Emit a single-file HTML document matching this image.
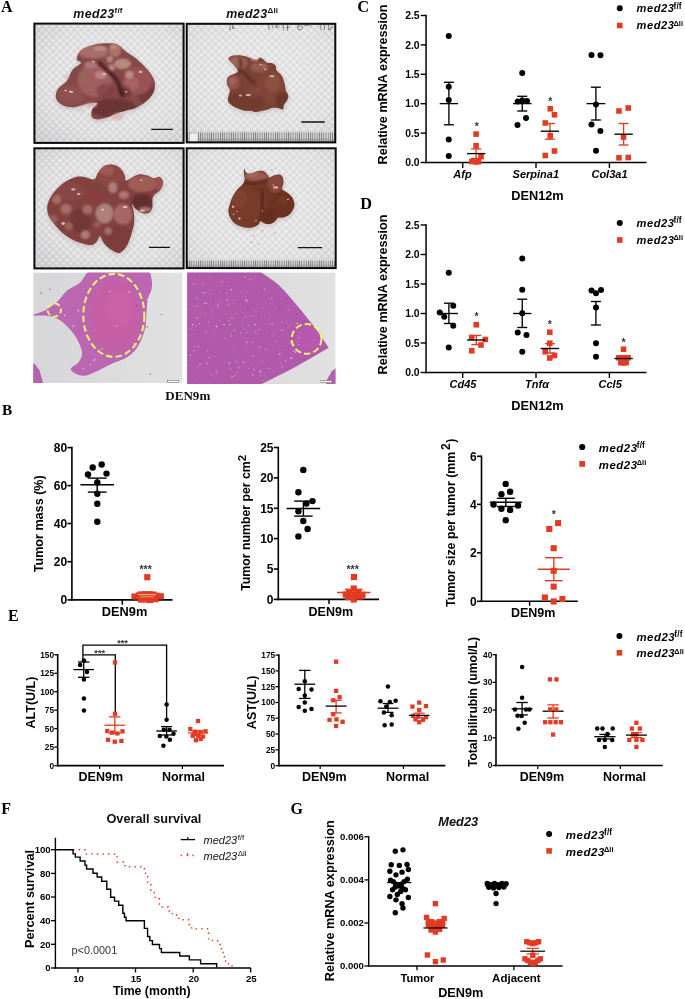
<!DOCTYPE html>
<html lang="en"><head><meta charset="utf-8"><title>Figure</title>
<style>html,body{margin:0;padding:0;background:#fff}svg{display:block}</style></head><body>
<svg width="685" height="999" viewBox="0 0 685 999">
<rect width="685" height="999" fill="#fff"/>
<defs>
<filter id="b1" x="-20%" y="-20%" width="140%" height="140%"><feGaussianBlur stdDeviation="1.1"/></filter>
<filter id="b2" x="-30%" y="-30%" width="160%" height="160%"><feGaussianBlur stdDeviation="2.5"/></filter>
<filter id="b3" x="-30%" y="-30%" width="160%" height="160%"><feGaussianBlur stdDeviation="5"/></filter>
<filter id="b05" x="-20%" y="-20%" width="140%" height="140%"><feGaussianBlur stdDeviation="0.6"/></filter>
<radialGradient id="bg1" cx="0.55" cy="0.45" r="0.75"><stop offset="0" stop-color="#e8e8e9"/><stop offset="0.65" stop-color="#dfdfe0"/><stop offset="1" stop-color="#cbcbce"/></radialGradient>
<radialGradient id="bg2" cx="0.5" cy="0.45" r="0.8"><stop offset="0" stop-color="#e9e9ea"/><stop offset="0.65" stop-color="#e0e0e1"/><stop offset="1" stop-color="#cdcdd0"/></radialGradient>
<pattern id="tex" width="5" height="5" patternUnits="userSpaceOnUse" patternTransform="rotate(45)"><rect width="5" height="5" fill="none"/><circle cx="1.25" cy="1.25" r="1.35" fill="#fff" opacity="0.42"/><circle cx="3.75" cy="3.75" r="1.3" fill="#acacb0" opacity="0.22"/></pattern>
<pattern id="ruler" width="2.2" height="12" patternUnits="userSpaceOnUse"><rect width="2.2" height="12" fill="#d6d6d6"/><rect width="0.8" height="12" fill="#767676"/></pattern>
<linearGradient id="hbg" x1="0" y1="0" x2="1" y2="0"><stop offset="0" stop-color="#d6d6d8"/><stop offset="1" stop-color="#e1e1e2"/></linearGradient>
</defs>
<text x="0.9" y="11.6" font-family='"Liberation Serif", serif' font-size="16" font-weight="bold" font-style="normal" text-anchor="start" fill="#000">A</text>
<text x="73.3" y="17.8" font-family='"Liberation Sans", sans-serif' font-size="12.4" font-weight="bold" font-style="italic" fill="#111" letter-spacing="0.4">med23<tspan font-size="8" font-style="normal" dy="-4.4" letter-spacing="0.2">f/f</tspan></text>
<text x="226.2" y="17.8" font-family='"Liberation Sans", sans-serif' font-size="12.4" font-weight="bold" font-style="italic" fill="#111" letter-spacing="0.4">med23<tspan font-size="8" font-style="normal" dy="-4.4" letter-spacing="0.2">Δli</tspan></text>
<clipPath id="cp1"><rect x="34.4" y="23.6" width="149.2" height="119.3"/></clipPath>
<g clip-path="url(#cp1)">
<rect x="34.4" y="23.6" width="149.2" height="119.3" fill="url(#bg1)"/>
<rect x="34.4" y="23.6" width="149.2" height="119.3" fill="url(#tex)"/>
<path d="M76.7 59.13C76.7 57.05 78.34 52.74 81.08 50.37C83.81 48 88.56 46.06 93.12 44.9C97.68 43.73 104.25 43.36 108.45 43.36C112.64 43.36 115.38 43.55 118.3 44.9C121.22 46.25 122.86 49.09 125.96 51.47C129.07 53.84 133.26 56.03 136.91 59.13C140.56 62.23 144.94 66.43 147.86 70.08C150.78 73.73 153.41 77.56 154.43 81.02C155.45 84.49 155.09 87.78 153.99 90.88C152.9 93.98 150.71 96.9 147.86 99.64C145.01 102.37 140.56 105.48 136.91 107.3C133.26 109.13 129.25 109.6 125.96 110.58C122.68 111.57 120.49 112.04 117.21 113.21C113.92 114.38 109.72 116.57 106.26 117.59C102.79 118.61 98.89 119.6 96.4 119.34C93.92 119.09 91.99 117.81 91.37 116.06C90.75 114.31 91.66 110.99 92.68 108.83C93.7 106.68 98.52 103.94 97.5 103.14C96.48 102.34 90.57 103.32 86.55 104.02C82.54 104.71 77.43 107.12 73.41 107.3C69.4 107.48 65.38 106.68 62.47 105.11C59.55 103.54 56.63 100.62 55.9 97.89C55.17 95.15 56.26 91.5 58.09 88.69C59.91 85.88 64.47 84.13 66.84 81.02C69.22 77.92 69.95 73.11 72.32 70.08C74.69 67.05 80.35 64.68 81.08 62.85C81.81 61.03 76.7 61.21 76.7 59.13Z" fill="#b3a6a6" filter="url(#b2)" opacity="0.75" transform="translate(0.4 1.4)"/>
<clipPath id="lv1"><path d="M76.7 59.13C76.7 57.05 78.34 52.74 81.08 50.37C83.81 48 88.56 46.06 93.12 44.9C97.68 43.73 104.25 43.36 108.45 43.36C112.64 43.36 115.38 43.55 118.3 44.9C121.22 46.25 122.86 49.09 125.96 51.47C129.07 53.84 133.26 56.03 136.91 59.13C140.56 62.23 144.94 66.43 147.86 70.08C150.78 73.73 153.41 77.56 154.43 81.02C155.45 84.49 155.09 87.78 153.99 90.88C152.9 93.98 150.71 96.9 147.86 99.64C145.01 102.37 140.56 105.48 136.91 107.3C133.26 109.13 129.25 109.6 125.96 110.58C122.68 111.57 120.49 112.04 117.21 113.21C113.92 114.38 109.72 116.57 106.26 117.59C102.79 118.61 98.89 119.6 96.4 119.34C93.92 119.09 91.99 117.81 91.37 116.06C90.75 114.31 91.66 110.99 92.68 108.83C93.7 106.68 98.52 103.94 97.5 103.14C96.48 102.34 90.57 103.32 86.55 104.02C82.54 104.71 77.43 107.12 73.41 107.3C69.4 107.48 65.38 106.68 62.47 105.11C59.55 103.54 56.63 100.62 55.9 97.89C55.17 95.15 56.26 91.5 58.09 88.69C59.91 85.88 64.47 84.13 66.84 81.02C69.22 77.92 69.95 73.11 72.32 70.08C74.69 67.05 80.35 64.68 81.08 62.85C81.81 61.03 76.7 61.21 76.7 59.13Z"/></clipPath>
<path d="M76.7 59.13C76.7 57.05 78.34 52.74 81.08 50.37C83.81 48 88.56 46.06 93.12 44.9C97.68 43.73 104.25 43.36 108.45 43.36C112.64 43.36 115.38 43.55 118.3 44.9C121.22 46.25 122.86 49.09 125.96 51.47C129.07 53.84 133.26 56.03 136.91 59.13C140.56 62.23 144.94 66.43 147.86 70.08C150.78 73.73 153.41 77.56 154.43 81.02C155.45 84.49 155.09 87.78 153.99 90.88C152.9 93.98 150.71 96.9 147.86 99.64C145.01 102.37 140.56 105.48 136.91 107.3C133.26 109.13 129.25 109.6 125.96 110.58C122.68 111.57 120.49 112.04 117.21 113.21C113.92 114.38 109.72 116.57 106.26 117.59C102.79 118.61 98.89 119.6 96.4 119.34C93.92 119.09 91.99 117.81 91.37 116.06C90.75 114.31 91.66 110.99 92.68 108.83C93.7 106.68 98.52 103.94 97.5 103.14C96.48 102.34 90.57 103.32 86.55 104.02C82.54 104.71 77.43 107.12 73.41 107.3C69.4 107.48 65.38 106.68 62.47 105.11C59.55 103.54 56.63 100.62 55.9 97.89C55.17 95.15 56.26 91.5 58.09 88.69C59.91 85.88 64.47 84.13 66.84 81.02C69.22 77.92 69.95 73.11 72.32 70.08C74.69 67.05 80.35 64.68 81.08 62.85C81.81 61.03 76.7 61.21 76.7 59.13Z" fill="#864a49" filter="url(#b05)"/>
<g clip-path="url(#lv1)">
<ellipse cx="70.33" cy="95.18" rx="13.03" ry="9.5" fill="#8f524f" filter="url(#b1)" opacity="0.95" transform="rotate(0 70.33 95.18)"/>
<ellipse cx="113.25" cy="108.21" rx="22.99" ry="9.5" fill="#6b3636" filter="url(#b1)" opacity="0.95" transform="rotate(0 113.25 108.21)"/>
<ellipse cx="146.97" cy="94.41" rx="8.43" ry="10.73" fill="#703a3a" filter="url(#b1)" opacity="0.9" transform="rotate(0 146.97 94.41)"/>
<ellipse cx="94.85" cy="80.16" rx="17.17" ry="16.55" fill="#a36160" filter="url(#b1)" opacity="0.95" transform="rotate(0 94.85 80.16)"/>
<ellipse cx="137.77" cy="81.08" rx="14.1" ry="13.8" fill="#9b5554" filter="url(#b1)" opacity="0.95" transform="rotate(0 137.77 81.08)"/>
<ellipse cx="131.64" cy="83.68" rx="7.66" ry="6.9" fill="#a96766" filter="url(#b1)" opacity="0.8" transform="rotate(0 131.64 83.68)"/>
<ellipse cx="93.32" cy="51.96" rx="15.33" ry="6.74" fill="#a9706b" filter="url(#b1)" opacity="0.95" transform="rotate(0 93.32 51.96)"/>
<ellipse cx="100.22" cy="48.43" rx="6.9" ry="2.76" fill="#c09a90" filter="url(#b1)" opacity="0.7" transform="rotate(0 100.22 48.43)"/>
<ellipse cx="115.09" cy="50.12" rx="6.13" ry="7.05" fill="#b37570" filter="url(#b1)" opacity="0.95" transform="rotate(0 115.09 50.12)"/>
<ellipse cx="112.94" cy="46.9" rx="3.07" ry="2.15" fill="#c49c92" filter="url(#b1)" opacity="0.6" transform="rotate(0 112.94 46.9)"/>
<ellipse cx="100.98" cy="74.95" rx="6.44" ry="3.99" fill="#bf8986" filter="url(#b1)" opacity="0.85" transform="rotate(0 100.98 74.95)"/>
<ellipse cx="90.56" cy="64.83" rx="6.44" ry="3.68" fill="#b88080" filter="url(#b1)" opacity="0.8" transform="rotate(0 90.56 64.83)"/>
<ellipse cx="83.36" cy="77.55" rx="3.07" ry="4.6" fill="#8b7252" filter="url(#b1)" opacity="0.7" transform="rotate(0 83.36 77.55)"/>
<ellipse cx="122.44" cy="63.76" rx="8.58" ry="5.21" fill="#bd9186" filter="url(#b1)" opacity="0.9" transform="rotate(0 122.44 63.76)"/>
<ellipse cx="129.34" cy="74.64" rx="4.29" ry="3.83" fill="#bd9388" filter="url(#b1)" opacity="0.9" transform="rotate(0 129.34 74.64)"/>
<ellipse cx="109.87" cy="59.16" rx="3.37" ry="3.37" fill="#bc8d84" filter="url(#b1)" opacity="0.9" transform="rotate(0 109.87 59.16)"/>
<ellipse cx="111.71" cy="67.59" rx="3.37" ry="3.22" fill="#bc8d84" filter="url(#b1)" opacity="0.9" transform="rotate(0 111.71 67.59)"/>
<ellipse cx="105.58" cy="90.58" rx="9.2" ry="6.9" fill="#7d4040" filter="url(#b1)" opacity="0.7" transform="rotate(0 105.58 90.58)"/>
<ellipse cx="124.74" cy="92.12" rx="6.13" ry="6.13" fill="#6a3131" filter="url(#b1)" opacity="0.6" transform="rotate(0 124.74 92.12)"/>
<path d="M99.45 62.99C100.35 63.89 102.77 66.44 104.82 68.36C106.86 70.27 109.67 72.44 111.71 74.49C113.76 76.53 115.67 78.19 117.08 80.62C118.48 83.05 119.25 86.62 120.14 89.05C121.04 91.48 122.06 94.16 122.44 95.18" fill="none" stroke="#3f191d" stroke-width="3.6" stroke-linecap="round" filter="url(#b1)" opacity="0.85"/>
<ellipse cx="71.09" cy="91.81" rx="2.45" ry="1.07" fill="#f2dedc" filter="url(#b05)" opacity="0.75" transform="rotate(0 71.09 91.81)"/>
<ellipse cx="65.73" cy="90.58" rx="1.23" ry="0.92" fill="#f2dedc" filter="url(#b05)" opacity="0.75" transform="rotate(0 65.73 90.58)"/>
<ellipse cx="140.53" cy="71.88" rx="1.84" ry="1.07" fill="#f2dedc" filter="url(#b05)" opacity="0.75" transform="rotate(0 140.53 71.88)"/>
<ellipse cx="104.05" cy="74.03" rx="1.84" ry="0.92" fill="#f2dedc" filter="url(#b05)" opacity="0.75" transform="rotate(0 104.05 74.03)"/>
<ellipse cx="126.28" cy="91.81" rx="1.23" ry="0.77" fill="#f2dedc" filter="url(#b05)" opacity="0.75" transform="rotate(0 126.28 91.81)"/>
<ellipse cx="93.32" cy="61.46" rx="1.53" ry="0.77" fill="#f2dedc" filter="url(#b05)" opacity="0.75" transform="rotate(0 93.32 61.46)"/>
</g>
<ellipse cx="91.02" cy="105.14" rx="6.13" ry="2.76" fill="#dba5a3" filter="url(#b1)" opacity="0.55" transform="rotate(0 91.02 105.14)"/>
<ellipse cx="117.84" cy="116.64" rx="6.13" ry="3.83" fill="#dba5a3" filter="url(#b1)" opacity="0.55" transform="rotate(0 117.84 116.64)"/>
<ellipse cx="66.5" cy="76.79" rx="2.3" ry="2.3" fill="#dba5a3" filter="url(#b1)" opacity="0.55" transform="rotate(0 66.5 76.79)"/>
<ellipse cx="82.59" cy="111.28" rx="2.15" ry="1.53" fill="#dba5a3" filter="url(#b1)" opacity="0.55" transform="rotate(0 82.59 111.28)"/>
<line x1="151.2" y1="129.3" x2="172.9" y2="129.3" stroke="#111" stroke-width="1.3"/>
</g>
<rect x="34.4" y="23.6" width="149.2" height="119.3" fill="none" stroke="#0a0a0a" stroke-width="2"/>
<clipPath id="cp2"><rect x="186.7" y="23.8" width="148.6" height="118.6"/></clipPath>
<g clip-path="url(#cp2)">
<rect x="186.7" y="23.8" width="148.6" height="118.6" fill="url(#bg2)"/>
<rect x="186.7" y="23.8" width="148.6" height="118.6" fill="url(#tex)"/>
<path d="M228.54 58.14C228.98 57.31 230.62 56.26 232.48 55.78C234.35 55.29 237.41 55.12 239.71 55.25C242.01 55.38 244.2 55.97 246.28 56.56C248.36 57.16 250.33 58.27 252.19 58.8C254.06 59.32 256.14 59.94 257.45 59.72C258.76 59.5 259.09 57.53 260.08 57.48C261.06 57.44 262.16 58.58 263.36 59.45C264.57 60.33 265.77 62.13 267.31 62.74C268.84 63.35 271.14 62.59 272.56 63.13C273.99 63.68 275.19 64.78 275.85 66.02C276.5 67.27 275.52 68.98 276.5 70.62C277.49 72.27 280.45 73.8 281.76 75.88C283.07 77.96 283.73 80.7 284.39 83.11C285.05 85.52 285.05 88.25 285.7 90.34C286.36 92.42 288.11 93.95 288.33 95.59C288.55 97.23 287.78 98.66 287.02 100.19C286.25 101.72 284.39 103.26 283.73 104.79C283.07 106.32 284.06 108.84 283.07 109.39C282.09 109.94 279.57 108.34 277.82 108.07C276.07 107.81 274.2 107.59 272.56 107.81C270.92 108.03 269.72 108.91 267.96 109.39C266.21 109.87 264.13 110.27 262.05 110.7C259.97 111.14 257.34 112.02 255.48 112.02C253.62 112.02 252.63 110.92 250.88 110.7C249.13 110.48 247.27 111.14 244.97 110.7C242.67 110.27 239.38 109.06 237.08 108.07C234.78 107.09 232.7 106.1 231.17 104.79C229.64 103.48 228.21 102.05 227.88 100.19C227.56 98.33 228.87 95.37 229.2 93.62C229.53 91.87 230.18 91.21 229.86 89.68C229.53 88.14 227.67 86.28 227.23 84.42C226.79 82.56 226.68 80.04 227.23 78.51C227.77 76.98 229.09 76.1 230.51 75.22C231.94 74.35 234.56 74.02 235.77 73.25C236.97 72.49 238.07 72.05 237.74 70.62C237.41 69.2 235.11 66.35 233.8 64.71C232.48 63.07 230.73 61.86 229.86 60.77C228.98 59.67 228.1 58.97 228.54 58.14Z" fill="#b5aaa8" filter="url(#b2)" opacity="0.75" transform="translate(0.4 1.4)"/>
<clipPath id="lv2"><path d="M228.54 58.14C228.98 57.31 230.62 56.26 232.48 55.78C234.35 55.29 237.41 55.12 239.71 55.25C242.01 55.38 244.2 55.97 246.28 56.56C248.36 57.16 250.33 58.27 252.19 58.8C254.06 59.32 256.14 59.94 257.45 59.72C258.76 59.5 259.09 57.53 260.08 57.48C261.06 57.44 262.16 58.58 263.36 59.45C264.57 60.33 265.77 62.13 267.31 62.74C268.84 63.35 271.14 62.59 272.56 63.13C273.99 63.68 275.19 64.78 275.85 66.02C276.5 67.27 275.52 68.98 276.5 70.62C277.49 72.27 280.45 73.8 281.76 75.88C283.07 77.96 283.73 80.7 284.39 83.11C285.05 85.52 285.05 88.25 285.7 90.34C286.36 92.42 288.11 93.95 288.33 95.59C288.55 97.23 287.78 98.66 287.02 100.19C286.25 101.72 284.39 103.26 283.73 104.79C283.07 106.32 284.06 108.84 283.07 109.39C282.09 109.94 279.57 108.34 277.82 108.07C276.07 107.81 274.2 107.59 272.56 107.81C270.92 108.03 269.72 108.91 267.96 109.39C266.21 109.87 264.13 110.27 262.05 110.7C259.97 111.14 257.34 112.02 255.48 112.02C253.62 112.02 252.63 110.92 250.88 110.7C249.13 110.48 247.27 111.14 244.97 110.7C242.67 110.27 239.38 109.06 237.08 108.07C234.78 107.09 232.7 106.1 231.17 104.79C229.64 103.48 228.21 102.05 227.88 100.19C227.56 98.33 228.87 95.37 229.2 93.62C229.53 91.87 230.18 91.21 229.86 89.68C229.53 88.14 227.67 86.28 227.23 84.42C226.79 82.56 226.68 80.04 227.23 78.51C227.77 76.98 229.09 76.1 230.51 75.22C231.94 74.35 234.56 74.02 235.77 73.25C236.97 72.49 238.07 72.05 237.74 70.62C237.41 69.2 235.11 66.35 233.8 64.71C232.48 63.07 230.73 61.86 229.86 60.77C228.98 59.67 228.1 58.97 228.54 58.14Z"/></clipPath>
<path d="M228.54 58.14C228.98 57.31 230.62 56.26 232.48 55.78C234.35 55.29 237.41 55.12 239.71 55.25C242.01 55.38 244.2 55.97 246.28 56.56C248.36 57.16 250.33 58.27 252.19 58.8C254.06 59.32 256.14 59.94 257.45 59.72C258.76 59.5 259.09 57.53 260.08 57.48C261.06 57.44 262.16 58.58 263.36 59.45C264.57 60.33 265.77 62.13 267.31 62.74C268.84 63.35 271.14 62.59 272.56 63.13C273.99 63.68 275.19 64.78 275.85 66.02C276.5 67.27 275.52 68.98 276.5 70.62C277.49 72.27 280.45 73.8 281.76 75.88C283.07 77.96 283.73 80.7 284.39 83.11C285.05 85.52 285.05 88.25 285.7 90.34C286.36 92.42 288.11 93.95 288.33 95.59C288.55 97.23 287.78 98.66 287.02 100.19C286.25 101.72 284.39 103.26 283.73 104.79C283.07 106.32 284.06 108.84 283.07 109.39C282.09 109.94 279.57 108.34 277.82 108.07C276.07 107.81 274.2 107.59 272.56 107.81C270.92 108.03 269.72 108.91 267.96 109.39C266.21 109.87 264.13 110.27 262.05 110.7C259.97 111.14 257.34 112.02 255.48 112.02C253.62 112.02 252.63 110.92 250.88 110.7C249.13 110.48 247.27 111.14 244.97 110.7C242.67 110.27 239.38 109.06 237.08 108.07C234.78 107.09 232.7 106.1 231.17 104.79C229.64 103.48 228.21 102.05 227.88 100.19C227.56 98.33 228.87 95.37 229.2 93.62C229.53 91.87 230.18 91.21 229.86 89.68C229.53 88.14 227.67 86.28 227.23 84.42C226.79 82.56 226.68 80.04 227.23 78.51C227.77 76.98 229.09 76.1 230.51 75.22C231.94 74.35 234.56 74.02 235.77 73.25C236.97 72.49 238.07 72.05 237.74 70.62C237.41 69.2 235.11 66.35 233.8 64.71C232.48 63.07 230.73 61.86 229.86 60.77C228.98 59.67 228.1 58.97 228.54 58.14Z" fill="#7a4235" filter="url(#b05)"/>
<g clip-path="url(#lv2)">
<ellipse cx="271.25" cy="87.05" rx="14.45" ry="17.08" fill="#824738" filter="url(#b1)" opacity="0.95" transform="rotate(0 271.25 87.05)"/>
<ellipse cx="272.56" cy="83.11" rx="7.23" ry="9.2" fill="#915546" filter="url(#b1)" opacity="0.7" transform="rotate(0 272.56 83.11)"/>
<ellipse cx="246.28" cy="101.5" rx="18.4" ry="9.2" fill="#713b2f" filter="url(#b1)" opacity="0.9" transform="rotate(0 246.28 101.5)"/>
<ellipse cx="281.76" cy="100.19" rx="5.91" ry="7.88" fill="#68352a" filter="url(#b1)" opacity="0.8" transform="rotate(0 281.76 100.19)"/>
<ellipse cx="238.4" cy="62.74" rx="9.86" ry="6.57" fill="#975e53" filter="url(#b1)" opacity="0.95" transform="rotate(0 238.4 62.74)"/>
<ellipse cx="233.8" cy="61.43" rx="4.6" ry="4.6" fill="#a16b60" filter="url(#b1)" opacity="0.7" transform="rotate(0 233.8 61.43)"/>
<ellipse cx="233.14" cy="82.45" rx="6.57" ry="7.23" fill="#93574e" filter="url(#b1)" opacity="0.95" transform="rotate(0 233.14 82.45)"/>
<ellipse cx="232.48" cy="81.14" rx="3.29" ry="3.68" fill="#a96f68" filter="url(#b1)" opacity="0.7" transform="rotate(0 232.48 81.14)"/>
<ellipse cx="259.42" cy="67.34" rx="9.2" ry="5.26" fill="#965e4f" filter="url(#b1)" opacity="0.85" transform="rotate(0 259.42 67.34)"/>
<ellipse cx="254.43" cy="59.19" rx="3.68" ry="1.58" fill="#cb9792" filter="url(#b1)" opacity="0.9" transform="rotate(0 254.43 59.19)"/>
<ellipse cx="264.02" cy="66.02" rx="1.84" ry="1.31" fill="#c58f89" filter="url(#b1)" opacity="0.7" transform="rotate(0 264.02 66.02)"/>
<ellipse cx="253.51" cy="92.31" rx="6.57" ry="6.57" fill="#8b4f41" filter="url(#b1)" opacity="0.5" transform="rotate(0 253.51 92.31)"/>
<path d="M239.71 59.19C239.93 60.11 241.02 62.81 241.02 64.71C241.02 66.62 239.16 69.2 239.71 70.62C240.26 72.05 242.56 71.72 244.31 73.25C246.06 74.79 248.54 78.14 250.22 79.82C251.91 81.51 253.73 82.78 254.43 83.37" fill="none" stroke="#4e221c" stroke-width="2" stroke-linecap="round" filter="url(#b1)" opacity="0.75"/>
<ellipse cx="271.91" cy="76.27" rx="2.63" ry="1.05" fill="#f2dedc" filter="url(#b05)" opacity="0.75" transform="rotate(0 271.91 76.27)"/>
<ellipse cx="248.25" cy="94.93" rx="2.89" ry="1.05" fill="#f2dedc" filter="url(#b05)" opacity="0.75" transform="rotate(0 248.25 94.93)"/>
<ellipse cx="240.37" cy="95.59" rx="1.58" ry="1.05" fill="#f2dedc" filter="url(#b05)" opacity="0.75" transform="rotate(0 240.37 95.59)"/>
<ellipse cx="265.34" cy="69.31" rx="1.31" ry="0.79" fill="#f2dedc" filter="url(#b05)" opacity="0.75" transform="rotate(0 265.34 69.31)"/>
<ellipse cx="260.74" cy="64.71" rx="1.18" ry="0.66" fill="#f2dedc" filter="url(#b05)" opacity="0.75" transform="rotate(0 260.74 64.71)"/>
</g>
<path d="M230 25.2 q0.8 2.5 -0.2 4.8 M232.5 25.5 l0.3 3.2 q1.2 1 1.8 -1.5" fill="none" stroke="#3a4052" stroke-width="0.75" stroke-linecap="round" opacity="0.8"/>
<path d="M268.5 25.3 q1.5 3 0.5 4.5 M272 25 l0.8 2.8 M276 25.2 q-1.2 2.4 0.8 3.2 q1.5 -0.5 1 -3" fill="none" stroke="#3a4052" stroke-width="0.75" stroke-linecap="round" opacity="0.8"/>
<path d="M283 25.5 l0.4 4.6 M287.5 25.2 l0.2 5.2 M286 27.5 l3 -0.4" fill="none" stroke="#3a4052" stroke-width="0.75" stroke-linecap="round" opacity="0.8"/>
<path d="M298 26 q-1.5 2.2 0.5 3.8 q3 0.8 4.5 -2.2 q-1 -2.4 -5 -1.6 M305 25.5 q2 1 4 -0.4" fill="none" stroke="#3a4052" stroke-width="0.75" stroke-linecap="round" opacity="0.8"/>
<path d="M320.5 25.3 l0.6 4 M324 25.3 q1.2 2.2 0.4 4.6 M328.5 25.2 l0.4 4.5 q1.5 1.2 3 -2.8" fill="none" stroke="#3a4052" stroke-width="0.75" stroke-linecap="round" opacity="0.8"/>
<circle cx="279.5" cy="27" r="1" fill="#e8a090" opacity="0.7"/><circle cx="311" cy="26.5" r="1.1" fill="#e8a090" opacity="0.7"/>
<rect x="186.7" y="131.2" width="149" height="11.3" fill="url(#ruler)"/>
<rect x="186.7" y="130.9" width="149" height="1.6" fill="#dadada" opacity="0.9" filter="url(#b05)"/>
<rect x="186.7" y="138.5" width="149" height="4" fill="#8e8e8e" opacity="0.5" filter="url(#b05)"/>
<rect x="189.5" y="133.5" width="8" height="8" fill="#f6f6f6" opacity="0.9" filter="url(#b05)"/>
<line x1="301.4" y1="122" x2="324.8" y2="122" stroke="#111" stroke-width="1.3"/>
</g>
<rect x="186.7" y="23.8" width="148.6" height="118.6" fill="none" stroke="#0a0a0a" stroke-width="2"/>
<clipPath id="cp3"><rect x="34.4" y="148.3" width="149.2" height="120.1"/></clipPath>
<g clip-path="url(#cp3)">
<rect x="34.4" y="148.3" width="149.2" height="120.1" fill="url(#bg1)"/>
<rect x="34.4" y="148.3" width="149.2" height="120.1" fill="url(#tex)"/>
<path d="M47.15 207.82C47.3 205.21 47.92 202.46 49.36 199.54C50.8 196.63 53.19 193.26 55.79 190.35C58.4 187.44 61.62 184.31 64.99 182.07C68.36 179.83 72.5 177.69 76.03 176.92C79.55 176.15 83.08 177.07 86.14 177.47C89.21 177.87 92.43 180.08 94.42 179.31C96.41 178.55 96.56 175.02 98.1 172.87C99.63 170.73 101.32 167.82 103.61 166.44C105.91 165.06 109.13 164.29 111.89 164.6C114.65 164.9 118.02 166.44 120.17 168.28C122.31 170.12 123.85 173.58 124.77 175.63C125.69 177.69 124.46 180.29 125.69 180.6C126.91 180.91 129.82 178.52 132.12 177.47C134.42 176.43 136.87 174.65 139.48 174.35C142.09 174.04 145.3 174.96 147.76 175.63C150.21 176.31 152.2 178.18 154.19 178.39C156.19 178.61 158.24 176.31 159.71 176.92C161.18 177.53 162.87 179.99 163.02 182.07C163.18 184.16 162.1 187.28 160.63 189.43C159.16 191.57 155.57 193.26 154.19 194.95C152.81 196.63 152.66 197.55 152.35 199.54C152.05 201.54 152.81 204.76 152.35 206.9C151.9 209.05 151.13 211.35 149.6 212.42C148.06 213.49 145.46 213.95 143.16 213.34C140.86 212.73 137.64 210.33 135.8 208.74C133.96 207.15 132.43 203.01 132.12 203.77C131.82 204.54 133.66 209.9 133.96 213.34C134.27 216.77 134.58 220.39 133.96 224.37C133.35 228.36 131.66 233.42 130.28 237.25C128.9 241.08 127.53 244.76 125.69 247.36C123.85 249.97 121.55 252.42 119.25 252.88C116.95 253.34 114.34 251.66 111.89 250.12C109.44 248.59 106.53 245.98 104.53 243.69C102.54 241.39 101.16 236.79 99.94 236.33C98.71 235.87 98.56 239.49 97.18 240.93C95.8 242.37 93.96 244.51 91.66 244.97C89.36 245.43 86.45 244.51 83.38 243.69C80.32 242.86 76.79 241.85 73.27 240.01C69.74 238.17 65.6 235.56 62.23 232.65C58.86 229.74 55.33 225.45 53.04 222.53C50.74 219.62 49.42 217.63 48.44 215.18C47.46 212.73 47 210.43 47.15 207.82Z" fill="#b3a6a6" filter="url(#b2)" opacity="0.75" transform="translate(0.4 1.4)"/>
<clipPath id="lv3"><path d="M47.15 207.82C47.3 205.21 47.92 202.46 49.36 199.54C50.8 196.63 53.19 193.26 55.79 190.35C58.4 187.44 61.62 184.31 64.99 182.07C68.36 179.83 72.5 177.69 76.03 176.92C79.55 176.15 83.08 177.07 86.14 177.47C89.21 177.87 92.43 180.08 94.42 179.31C96.41 178.55 96.56 175.02 98.1 172.87C99.63 170.73 101.32 167.82 103.61 166.44C105.91 165.06 109.13 164.29 111.89 164.6C114.65 164.9 118.02 166.44 120.17 168.28C122.31 170.12 123.85 173.58 124.77 175.63C125.69 177.69 124.46 180.29 125.69 180.6C126.91 180.91 129.82 178.52 132.12 177.47C134.42 176.43 136.87 174.65 139.48 174.35C142.09 174.04 145.3 174.96 147.76 175.63C150.21 176.31 152.2 178.18 154.19 178.39C156.19 178.61 158.24 176.31 159.71 176.92C161.18 177.53 162.87 179.99 163.02 182.07C163.18 184.16 162.1 187.28 160.63 189.43C159.16 191.57 155.57 193.26 154.19 194.95C152.81 196.63 152.66 197.55 152.35 199.54C152.05 201.54 152.81 204.76 152.35 206.9C151.9 209.05 151.13 211.35 149.6 212.42C148.06 213.49 145.46 213.95 143.16 213.34C140.86 212.73 137.64 210.33 135.8 208.74C133.96 207.15 132.43 203.01 132.12 203.77C131.82 204.54 133.66 209.9 133.96 213.34C134.27 216.77 134.58 220.39 133.96 224.37C133.35 228.36 131.66 233.42 130.28 237.25C128.9 241.08 127.53 244.76 125.69 247.36C123.85 249.97 121.55 252.42 119.25 252.88C116.95 253.34 114.34 251.66 111.89 250.12C109.44 248.59 106.53 245.98 104.53 243.69C102.54 241.39 101.16 236.79 99.94 236.33C98.71 235.87 98.56 239.49 97.18 240.93C95.8 242.37 93.96 244.51 91.66 244.97C89.36 245.43 86.45 244.51 83.38 243.69C80.32 242.86 76.79 241.85 73.27 240.01C69.74 238.17 65.6 235.56 62.23 232.65C58.86 229.74 55.33 225.45 53.04 222.53C50.74 219.62 49.42 217.63 48.44 215.18C47.46 212.73 47 210.43 47.15 207.82Z"/></clipPath>
<path d="M47.15 207.82C47.3 205.21 47.92 202.46 49.36 199.54C50.8 196.63 53.19 193.26 55.79 190.35C58.4 187.44 61.62 184.31 64.99 182.07C68.36 179.83 72.5 177.69 76.03 176.92C79.55 176.15 83.08 177.07 86.14 177.47C89.21 177.87 92.43 180.08 94.42 179.31C96.41 178.55 96.56 175.02 98.1 172.87C99.63 170.73 101.32 167.82 103.61 166.44C105.91 165.06 109.13 164.29 111.89 164.6C114.65 164.9 118.02 166.44 120.17 168.28C122.31 170.12 123.85 173.58 124.77 175.63C125.69 177.69 124.46 180.29 125.69 180.6C126.91 180.91 129.82 178.52 132.12 177.47C134.42 176.43 136.87 174.65 139.48 174.35C142.09 174.04 145.3 174.96 147.76 175.63C150.21 176.31 152.2 178.18 154.19 178.39C156.19 178.61 158.24 176.31 159.71 176.92C161.18 177.53 162.87 179.99 163.02 182.07C163.18 184.16 162.1 187.28 160.63 189.43C159.16 191.57 155.57 193.26 154.19 194.95C152.81 196.63 152.66 197.55 152.35 199.54C152.05 201.54 152.81 204.76 152.35 206.9C151.9 209.05 151.13 211.35 149.6 212.42C148.06 213.49 145.46 213.95 143.16 213.34C140.86 212.73 137.64 210.33 135.8 208.74C133.96 207.15 132.43 203.01 132.12 203.77C131.82 204.54 133.66 209.9 133.96 213.34C134.27 216.77 134.58 220.39 133.96 224.37C133.35 228.36 131.66 233.42 130.28 237.25C128.9 241.08 127.53 244.76 125.69 247.36C123.85 249.97 121.55 252.42 119.25 252.88C116.95 253.34 114.34 251.66 111.89 250.12C109.44 248.59 106.53 245.98 104.53 243.69C102.54 241.39 101.16 236.79 99.94 236.33C98.71 235.87 98.56 239.49 97.18 240.93C95.8 242.37 93.96 244.51 91.66 244.97C89.36 245.43 86.45 244.51 83.38 243.69C80.32 242.86 76.79 241.85 73.27 240.01C69.74 238.17 65.6 235.56 62.23 232.65C58.86 229.74 55.33 225.45 53.04 222.53C50.74 219.62 49.42 217.63 48.44 215.18C47.46 212.73 47 210.43 47.15 207.82Z" fill="#82433f" filter="url(#b05)"/>
<g clip-path="url(#lv3)">
<ellipse cx="110.97" cy="175.63" rx="14.35" ry="11.4" fill="#8d4945" filter="url(#b1)" opacity="0.95" transform="rotate(0 110.97 175.63)"/>
<ellipse cx="106.74" cy="170.67" rx="7.36" ry="4.6" fill="#a35f5a" filter="url(#b1)" opacity="0.8" transform="rotate(0 106.74 170.67)"/>
<ellipse cx="142.24" cy="183.91" rx="14.35" ry="8.46" fill="#a25e59" filter="url(#b1)" opacity="0.95" transform="rotate(0 142.24 183.91)"/>
<ellipse cx="158.98" cy="183.91" rx="4.05" ry="7.36" fill="#a15752" filter="url(#b1)" opacity="0.9" transform="rotate(0 158.98 183.91)"/>
<ellipse cx="142.24" cy="202.67" rx="10.67" ry="9.2" fill="#632d2d" filter="url(#b1)" opacity="0.9" transform="rotate(0 142.24 202.67)"/>
<ellipse cx="145" cy="209.29" rx="5.89" ry="2.57" fill="#b88a84" filter="url(#b1)" opacity="0.8" transform="rotate(0 145 209.29)"/>
<ellipse cx="80.62" cy="220.7" rx="10.12" ry="11.96" fill="#6b3431" filter="url(#b1)" opacity="0.7" transform="rotate(0 80.62 220.7)"/>
<ellipse cx="95.34" cy="196.78" rx="11.96" ry="5.52" fill="#8f3e3e" filter="url(#b1)" opacity="0.6" transform="rotate(0 95.34 196.78)"/>
<ellipse cx="117.41" cy="239.46" rx="15.08" ry="13.98" fill="#7b3e3a" filter="url(#b1)" opacity="0.9" transform="rotate(0 117.41 239.46)"/>
<ellipse cx="69.59" cy="191.27" rx="16.55" ry="9.2" fill="#8c4c48" filter="url(#b1)" opacity="0.6" transform="rotate(0 69.59 191.27)"/>
<ellipse cx="104.53" cy="213.34" rx="9.2" ry="10.12" fill="#b38580" filter="url(#b1)" opacity="0.9" transform="rotate(0 104.53 213.34)"/>
<ellipse cx="122.93" cy="214.44" rx="9.56" ry="10.67" fill="#a86c69" filter="url(#b1)" opacity="0.9" transform="rotate(0 122.93 214.44)"/>
<ellipse cx="112.81" cy="187.59" rx="4.6" ry="5.52" fill="#b48780" filter="url(#b1)" opacity="0.88" transform="rotate(0 112.81 187.59)"/>
<ellipse cx="123.85" cy="194.95" rx="5.15" ry="4.05" fill="#b87b78" filter="url(#b1)" opacity="0.88" transform="rotate(0 123.85 194.95)"/>
<ellipse cx="56.71" cy="199.54" rx="4.78" ry="4.78" fill="#a86f69" filter="url(#b1)" opacity="0.9" transform="rotate(0 56.71 199.54)"/>
<ellipse cx="65.91" cy="208.92" rx="5.52" ry="5.52" fill="#a97169" filter="url(#b1)" opacity="0.9" transform="rotate(0 65.91 208.92)"/>
<ellipse cx="53.04" cy="219.22" rx="4.6" ry="4.6" fill="#9d625d" filter="url(#b1)" opacity="0.9" transform="rotate(0 53.04 219.22)"/>
<ellipse cx="68.85" cy="226.21" rx="4.05" ry="4.05" fill="#a16661" filter="url(#b1)" opacity="0.9" transform="rotate(0 68.85 226.21)"/>
<ellipse cx="87.25" cy="209.66" rx="5.15" ry="5.15" fill="#a76f69" filter="url(#b1)" opacity="0.9" transform="rotate(0 87.25 209.66)"/>
<ellipse cx="85.41" cy="234.67" rx="4.6" ry="4.41" fill="#b08179" filter="url(#b1)" opacity="0.9" transform="rotate(0 85.41 234.67)"/>
<ellipse cx="108.21" cy="231" rx="3.68" ry="3.68" fill="#a97771" filter="url(#b1)" opacity="0.9" transform="rotate(0 108.21 231)"/>
<ellipse cx="97.18" cy="224.37" rx="3.31" ry="3.31" fill="#a06762" filter="url(#b1)" opacity="0.7" transform="rotate(0 97.18 224.37)"/>
<ellipse cx="73.27" cy="189.43" rx="2.21" ry="1.1" fill="#f2dedc" filter="url(#b05)" opacity="0.75" transform="rotate(0 73.27 189.43)"/>
<ellipse cx="63.15" cy="223.45" rx="1.84" ry="1.47" fill="#f2dedc" filter="url(#b05)" opacity="0.75" transform="rotate(0 63.15 223.45)"/>
<ellipse cx="125.13" cy="207.08" rx="2.57" ry="1.1" fill="#f2dedc" filter="url(#b05)" opacity="0.75" transform="rotate(0 125.13 207.08)"/>
<ellipse cx="142.24" cy="210.76" rx="2.76" ry="1.1" fill="#f2dedc" filter="url(#b05)" opacity="0.75" transform="rotate(0 142.24 210.76)"/>
<ellipse cx="141.32" cy="180.23" rx="1.47" ry="0.74" fill="#f2dedc" filter="url(#b05)" opacity="0.75" transform="rotate(0 141.32 180.23)"/>
<ellipse cx="78.78" cy="194.03" rx="1.84" ry="0.92" fill="#f2dedc" filter="url(#b05)" opacity="0.75" transform="rotate(0 78.78 194.03)"/>
<ellipse cx="102.7" cy="209.66" rx="1.47" ry="0.92" fill="#f2dedc" filter="url(#b05)" opacity="0.75" transform="rotate(0 102.7 209.66)"/>
</g>
<line x1="149" y1="247.4" x2="169.9" y2="247.4" stroke="#111" stroke-width="1.3"/>
</g>
<rect x="34.4" y="148.3" width="149.2" height="120.1" fill="none" stroke="#0a0a0a" stroke-width="2"/>
<clipPath id="cp4"><rect x="186.7" y="148.3" width="149" height="119.8"/></clipPath>
<g clip-path="url(#cp4)">
<rect x="186.7" y="148.3" width="149" height="119.8" fill="url(#bg2)"/>
<rect x="186.7" y="148.3" width="149" height="119.8" fill="url(#tex)"/>
<path d="M244.19 168.41C244.52 168.12 244.97 171.37 245.94 172.26C246.91 173.16 248.37 173.88 250.03 173.78C251.68 173.68 253.82 172.18 255.87 171.68C257.91 171.17 260.44 170.36 262.29 170.74C264.14 171.13 265.8 172.89 266.96 174.01C268.13 175.14 268.23 177.23 269.3 177.52C270.37 177.81 271.73 176.25 273.39 175.77C275.04 175.28 277.67 174.31 279.23 174.6C280.78 174.89 282.05 176.06 282.73 177.52C283.41 178.98 283.41 181.41 283.31 183.36C283.22 185.3 281.46 187.64 282.15 189.2C282.83 190.75 285.75 191.34 287.4 192.7C289.06 194.06 290.91 195.52 292.07 197.37C293.24 199.22 294.21 201.85 294.41 203.8C294.6 205.74 294.02 207.3 293.24 209.05C292.46 210.8 291.29 212.94 289.74 214.31C288.18 215.67 285.84 216.64 283.9 217.23C281.95 217.81 279.42 217.23 278.06 217.81C276.7 218.39 276.89 219.76 275.72 220.73C274.55 221.7 272.8 223.16 271.05 223.65C269.3 224.14 266.96 224.04 265.21 223.65C263.46 223.26 261.71 221.12 260.54 221.31C259.37 221.51 259.57 223.79 258.2 224.82C256.84 225.85 254.7 227.11 252.36 227.5C250.03 227.89 246.91 227.7 244.19 227.15C241.46 226.61 238.25 225.69 236.01 224.23C233.78 222.77 232.02 220.54 230.76 218.39C229.49 216.25 228.62 213.53 228.42 211.39C228.23 209.25 228.91 207.88 229.59 205.55C230.27 203.21 231.25 200 232.51 197.37C233.78 194.74 235.53 191.92 237.18 189.78C238.84 187.64 241.17 186.28 242.44 184.53C243.7 182.77 244.52 181.02 244.77 179.27C245.03 177.52 244.05 175.82 243.96 174.01C243.86 172.2 243.86 168.7 244.19 168.41Z" fill="#b5aaa8" filter="url(#b2)" opacity="0.75" transform="translate(0.4 1.4)"/>
<clipPath id="lv4"><path d="M244.19 168.41C244.52 168.12 244.97 171.37 245.94 172.26C246.91 173.16 248.37 173.88 250.03 173.78C251.68 173.68 253.82 172.18 255.87 171.68C257.91 171.17 260.44 170.36 262.29 170.74C264.14 171.13 265.8 172.89 266.96 174.01C268.13 175.14 268.23 177.23 269.3 177.52C270.37 177.81 271.73 176.25 273.39 175.77C275.04 175.28 277.67 174.31 279.23 174.6C280.78 174.89 282.05 176.06 282.73 177.52C283.41 178.98 283.41 181.41 283.31 183.36C283.22 185.3 281.46 187.64 282.15 189.2C282.83 190.75 285.75 191.34 287.4 192.7C289.06 194.06 290.91 195.52 292.07 197.37C293.24 199.22 294.21 201.85 294.41 203.8C294.6 205.74 294.02 207.3 293.24 209.05C292.46 210.8 291.29 212.94 289.74 214.31C288.18 215.67 285.84 216.64 283.9 217.23C281.95 217.81 279.42 217.23 278.06 217.81C276.7 218.39 276.89 219.76 275.72 220.73C274.55 221.7 272.8 223.16 271.05 223.65C269.3 224.14 266.96 224.04 265.21 223.65C263.46 223.26 261.71 221.12 260.54 221.31C259.37 221.51 259.57 223.79 258.2 224.82C256.84 225.85 254.7 227.11 252.36 227.5C250.03 227.89 246.91 227.7 244.19 227.15C241.46 226.61 238.25 225.69 236.01 224.23C233.78 222.77 232.02 220.54 230.76 218.39C229.49 216.25 228.62 213.53 228.42 211.39C228.23 209.25 228.91 207.88 229.59 205.55C230.27 203.21 231.25 200 232.51 197.37C233.78 194.74 235.53 191.92 237.18 189.78C238.84 187.64 241.17 186.28 242.44 184.53C243.7 182.77 244.52 181.02 244.77 179.27C245.03 177.52 244.05 175.82 243.96 174.01C243.86 172.2 243.86 168.7 244.19 168.41Z"/></clipPath>
<path d="M244.19 168.41C244.52 168.12 244.97 171.37 245.94 172.26C246.91 173.16 248.37 173.88 250.03 173.78C251.68 173.68 253.82 172.18 255.87 171.68C257.91 171.17 260.44 170.36 262.29 170.74C264.14 171.13 265.8 172.89 266.96 174.01C268.13 175.14 268.23 177.23 269.3 177.52C270.37 177.81 271.73 176.25 273.39 175.77C275.04 175.28 277.67 174.31 279.23 174.6C280.78 174.89 282.05 176.06 282.73 177.52C283.41 178.98 283.41 181.41 283.31 183.36C283.22 185.3 281.46 187.64 282.15 189.2C282.83 190.75 285.75 191.34 287.4 192.7C289.06 194.06 290.91 195.52 292.07 197.37C293.24 199.22 294.21 201.85 294.41 203.8C294.6 205.74 294.02 207.3 293.24 209.05C292.46 210.8 291.29 212.94 289.74 214.31C288.18 215.67 285.84 216.64 283.9 217.23C281.95 217.81 279.42 217.23 278.06 217.81C276.7 218.39 276.89 219.76 275.72 220.73C274.55 221.7 272.8 223.16 271.05 223.65C269.3 224.14 266.96 224.04 265.21 223.65C263.46 223.26 261.71 221.12 260.54 221.31C259.37 221.51 259.57 223.79 258.2 224.82C256.84 225.85 254.7 227.11 252.36 227.5C250.03 227.89 246.91 227.7 244.19 227.15C241.46 226.61 238.25 225.69 236.01 224.23C233.78 222.77 232.02 220.54 230.76 218.39C229.49 216.25 228.62 213.53 228.42 211.39C228.23 209.25 228.91 207.88 229.59 205.55C230.27 203.21 231.25 200 232.51 197.37C233.78 194.74 235.53 191.92 237.18 189.78C238.84 187.64 241.17 186.28 242.44 184.53C243.7 182.77 244.52 181.02 244.77 179.27C245.03 177.52 244.05 175.82 243.96 174.01C243.86 172.2 243.86 168.7 244.19 168.41Z" fill="#713728" filter="url(#b05)"/>
<g clip-path="url(#lv4)">
<ellipse cx="245.36" cy="206.72" rx="16.93" ry="20.44" fill="#783d2b" filter="url(#b1)" opacity="0.95" transform="rotate(0 245.36 206.72)"/>
<ellipse cx="239.52" cy="198.54" rx="8.18" ry="9.34" fill="#844634" filter="url(#b1)" opacity="0.6" transform="rotate(0 239.52 198.54)"/>
<ellipse cx="281.56" cy="204.96" rx="12.26" ry="12.61" fill="#6a3121" filter="url(#b1)" opacity="0.95" transform="rotate(0 281.56 204.96)"/>
<ellipse cx="282.73" cy="200.88" rx="5.84" ry="5.26" fill="#7b3d2c" filter="url(#b1)" opacity="0.6" transform="rotate(0 282.73 200.88)"/>
<ellipse cx="267.55" cy="216.06" rx="7.71" ry="7.24" fill="#652d22" filter="url(#b1)" opacity="0.95" transform="rotate(0 267.55 216.06)"/>
<ellipse cx="275.14" cy="183.36" rx="7.71" ry="9.58" fill="#8a4b3a" filter="url(#b1)" opacity="0.97" transform="rotate(0 275.14 183.36)"/>
<ellipse cx="255.87" cy="176.35" rx="12.26" ry="4.91" fill="#995d53" filter="url(#b1)" opacity="0.97" transform="rotate(0 255.87 176.35)"/>
<ellipse cx="252.36" cy="174.95" rx="5.84" ry="2.1" fill="#a97166" filter="url(#b1)" opacity="0.7" transform="rotate(0 252.36 174.95)"/>
<path d="M262.29 189.78C262.43 190.66 263.21 193.19 263.11 195.04C263.01 196.89 261.84 198.93 261.71 200.88C261.57 202.82 262.49 204.96 262.29 206.72C262.1 208.47 260.83 210.61 260.54 211.39" fill="none" stroke="#3c1812" stroke-width="1.6" stroke-linecap="round" filter="url(#b1)" opacity="0.7"/>
<path d="M245.36 182.77C246.33 182.97 248.86 184.04 251.2 183.94C253.53 183.84 256.74 182.83 259.37 182.19C262 181.55 265.7 180.44 266.96 180.09" fill="none" stroke="#552519" stroke-width="2.2" stroke-linecap="round" filter="url(#b1)" opacity="0.75"/>
<ellipse cx="275.72" cy="187.45" rx="2.57" ry="1.17" fill="#f2dedc" filter="url(#b05)" opacity="0.75" transform="rotate(0 275.72 187.45)"/>
<ellipse cx="273.39" cy="185.11" rx="0.93" ry="0.7" fill="#f2dedc" filter="url(#b05)" opacity="0.75" transform="rotate(0 273.39 185.11)"/>
<ellipse cx="233.09" cy="206.72" rx="1.17" ry="1.17" fill="#f2dedc" filter="url(#b05)" opacity="0.75" transform="rotate(0 233.09 206.72)"/>
<ellipse cx="239.52" cy="218.39" rx="1.05" ry="1.17" fill="#f2dedc" filter="url(#b05)" opacity="0.75" transform="rotate(0 239.52 218.39)"/>
<ellipse cx="233.68" cy="214.31" rx="0.82" ry="0.82" fill="#f2dedc" filter="url(#b05)" opacity="0.75" transform="rotate(0 233.68 214.31)"/>
<ellipse cx="237.18" cy="211.39" rx="0.7" ry="0.7" fill="#f2dedc" filter="url(#b05)" opacity="0.75" transform="rotate(0 237.18 211.39)"/>
<ellipse cx="287.99" cy="199.36" rx="1.17" ry="0.7" fill="#f2dedc" filter="url(#b05)" opacity="0.75" transform="rotate(0 287.99 199.36)"/>
<ellipse cx="262.29" cy="210.8" rx="0.7" ry="0.7" fill="#f2dedc" filter="url(#b05)" opacity="0.75" transform="rotate(0 262.29 210.8)"/>
<ellipse cx="255.87" cy="220.73" rx="0.82" ry="0.82" fill="#f2dedc" filter="url(#b05)" opacity="0.75" transform="rotate(0 255.87 220.73)"/>
</g>
<ellipse cx="253.88" cy="235.58" rx="1.2" ry="1" fill="#dba8a6" filter="url(#b05)" opacity="0.75" transform="rotate(0 253.88 235.58)"/>
<ellipse cx="262.64" cy="230.77" rx="1.2" ry="1" fill="#dba8a6" filter="url(#b05)" opacity="0.75" transform="rotate(0 262.64 230.77)"/>
<ellipse cx="274.68" cy="233.4" rx="1.2" ry="1" fill="#dba8a6" filter="url(#b05)" opacity="0.75" transform="rotate(0 274.68 233.4)"/>
<ellipse cx="258.26" cy="244.34" rx="1.2" ry="1" fill="#dba8a6" filter="url(#b05)" opacity="0.75" transform="rotate(0 258.26 244.34)"/>
<ellipse cx="249.06" cy="229.45" rx="1.2" ry="1" fill="#dba8a6" filter="url(#b05)" opacity="0.75" transform="rotate(0 249.06 229.45)"/>
<ellipse cx="251.69" cy="242.15" rx="1.2" ry="1" fill="#dba8a6" filter="url(#b05)" opacity="0.75" transform="rotate(0 251.69 242.15)"/>
<ellipse cx="271.83" cy="169.9" rx="1.2" ry="1" fill="#dba8a6" filter="url(#b05)" opacity="0.75" transform="rotate(0 271.83 169.9)"/>
<rect x="186.7" y="259.8" width="149" height="8.5" fill="url(#ruler)"/>
<rect x="186.7" y="259.4" width="149" height="1.4" fill="#dadada" opacity="0.9" filter="url(#b05)"/>
<rect x="186.7" y="264.8" width="149" height="3.4" fill="#8e8e8e" opacity="0.5" filter="url(#b05)"/>
<line x1="297.8" y1="247.6" x2="322.1" y2="247.6" stroke="#111" stroke-width="1.3"/>
</g>
<rect x="186.7" y="148.3" width="149" height="119.8" fill="none" stroke="#0a0a0a" stroke-width="2"/>
<clipPath id="ch1"><rect x="33.2" y="272.4" width="149.3" height="110.7"/></clipPath>
<g clip-path="url(#ch1)">
<rect x="33.2" y="272.4" width="149.3" height="110.7" fill="url(#hbg)"/>
<path d="M91.98 269.45C98.6 266.96 110.18 268 119.28 268.21C128.38 268.41 141.2 268.83 146.58 270.69C151.96 272.55 150.72 276.27 151.55 279.37C152.37 282.48 152.17 285.99 151.55 289.3C150.93 292.61 148.65 295.51 147.82 299.23C147 302.95 147 307.09 146.58 311.64C146.17 316.19 146.17 321.98 145.34 326.53C144.51 331.08 143.48 334.81 141.62 338.94C139.76 343.08 137.07 348.04 134.17 351.35C131.28 354.66 127.97 356.73 124.24 358.8C120.52 360.87 116.38 361.69 111.83 363.76C107.28 365.83 101.49 369.22 96.94 371.21C92.39 373.19 88.26 375.34 84.53 375.68C80.81 376.01 76.88 374.35 74.6 373.19C72.33 372.04 70.26 370.51 70.88 368.73C71.5 366.95 76.47 365 78.33 362.52C80.19 360.04 82.05 357.35 82.05 353.83C82.05 350.32 80.4 345.56 78.33 341.42C76.26 337.29 73.16 332.82 69.64 329.01C66.12 325.21 61.37 320.82 57.23 318.59C53.09 316.36 48.96 316.15 44.82 315.61C40.68 315.07 32.41 316.23 32.41 315.36C32.41 314.49 40.68 312.67 44.82 310.4C48.96 308.12 53.51 305.02 57.23 301.71C60.95 298.4 63.44 293.65 67.16 290.54C70.88 287.44 75.43 286.61 79.57 283.1C83.7 279.58 85.36 271.93 91.98 269.45Z" fill="#ba66b0" filter="url(#b05)"/>
<ellipse cx="114.32" cy="315.36" rx="26.06" ry="35.99" fill="#c75fa4" filter="url(#b2)" opacity="0.9" transform="rotate(0 114.32 315.36)"/>
<ellipse cx="119.28" cy="309.16" rx="14.89" ry="19.86" fill="#cc64a4" filter="url(#b2)" opacity="0.6" transform="rotate(0 119.28 309.16)"/>
<path d="M31.17 362.52L34.89 364.26L39.36 369.97L43.58 384.86L31.17 384.86Z" fill="#b362ad"/>
<ellipse cx="109.85" cy="291.29" rx="0.84" ry="0.5" fill="#f0e6f0" opacity="0.85" transform="rotate(139 109.85 291.29)"/>
<ellipse cx="116.8" cy="326.04" rx="0.73" ry="0.5" fill="#f0e6f0" opacity="0.85" transform="rotate(154 116.8 326.04)"/>
<ellipse cx="73.36" cy="326.04" rx="1.07" ry="0.5" fill="#f0e6f0" opacity="0.85" transform="rotate(148 73.36 326.04)"/>
<ellipse cx="87.01" cy="336.46" rx="0.67" ry="0.5" fill="#f0e6f0" opacity="0.85" transform="rotate(3 87.01 336.46)"/>
<ellipse cx="94.46" cy="360.04" rx="1.51" ry="0.5" fill="#f0e6f0" opacity="0.85" transform="rotate(120 94.46 360.04)"/>
<ellipse cx="90.74" cy="365" rx="0.86" ry="0.5" fill="#f0e6f0" opacity="0.85" transform="rotate(59 90.74 365)"/>
<ellipse cx="83.29" cy="368.73" rx="0.79" ry="0.5" fill="#f0e6f0" opacity="0.85" transform="rotate(120 83.29 368.73)"/>
<ellipse cx="101.91" cy="348.87" rx="1.14" ry="0.5" fill="#f0e6f0" opacity="0.85" transform="rotate(140 101.91 348.87)"/>
<ellipse cx="147.82" cy="299.23" rx="1.08" ry="0.5" fill="#f0e6f0" opacity="0.85" transform="rotate(163 147.82 299.23)"/>
<ellipse cx="78.33" cy="310.4" rx="1.46" ry="0.5" fill="#f0e6f0" opacity="0.85" transform="rotate(59 78.33 310.4)"/>
<ellipse cx="64.68" cy="315.36" rx="1.23" ry="0.5" fill="#f0e6f0" opacity="0.85" transform="rotate(133 64.68 315.36)"/>
<ellipse cx="134.17" cy="343.91" rx="0.99" ry="0.5" fill="#f0e6f0" opacity="0.85" transform="rotate(3 134.17 343.91)"/>
<ellipse cx="129.21" cy="291.78" rx="1.27" ry="0.5" fill="#f0e6f0" opacity="0.85" transform="rotate(16 129.21 291.78)"/>
<circle cx="150.31" cy="374.19" r="0.7" fill="#4a4438" opacity="0.7"/>
<circle cx="147.08" cy="327.03" r="0.7" fill="#4a4438" opacity="0.7"/>
<circle cx="145.34" cy="326.04" r="0.7" fill="#4a4438" opacity="0.7"/>
<circle cx="161.47" cy="314.62" r="0.7" fill="#4a4438" opacity="0.7"/>
<circle cx="41.1" cy="293.03" r="0.7" fill="#4a4438" opacity="0.7"/>
<circle cx="49.78" cy="289.3" r="0.7" fill="#4a4438" opacity="0.7"/>
<circle cx="136.65" cy="305.44" r="0.7" fill="#4a4438" opacity="0.7"/>
<ellipse cx="113.82" cy="315.36" rx="30.53" ry="41.45" fill="none" stroke="#f6f270" stroke-width="2" stroke-dasharray="6.5 3.2"/>
<circle cx="54.25" cy="309.9" r="6.7" fill="none" stroke="#f6f270" stroke-width="1.9" stroke-dasharray="5.5 3" stroke-dashoffset="2"/>
<rect x="167.5" y="380.3" width="11" height="2.2" fill="#fff" stroke="#333" stroke-width="0.4"/>
</g>
<clipPath id="ch2"><rect x="187.1" y="272.4" width="148.5" height="111.7"/></clipPath>
<g clip-path="url(#ch2)">
<rect x="187.1" y="272.4" width="148.5" height="111.7" fill="url(#hbg)"/>
<path d="M247.46 264.48C249.61 265.72 255.2 268.54 260.37 271.93C265.54 275.32 272.36 279.25 278.49 284.83C284.61 290.42 291.43 298.82 297.1 305.44C302.77 312.05 308.15 318.88 312.49 324.55C316.83 330.21 320.47 335.59 323.16 339.44C325.85 343.29 327.71 346.26 328.62 347.63L311.99 357.56L292.14 368.73L272.28 378.65L257.39 386.1L182.93 386.1L182.93 264.48Z" fill="#b15aab" filter="url(#b05)"/>
<ellipse cx="306.53" cy="338.94" rx="12.41" ry="12.41" fill="#bd58ae" filter="url(#b2)" opacity="0.7" transform="rotate(0 306.53 338.94)"/>
<path d="M338.05 366.24L331.85 371.21L327.38 378.65L325.64 386.1L338.05 386.1Z" fill="#b362ad"/>
<circle cx="226.54" cy="292.62" r="0.59" fill="#ecdcee" opacity="0.53"/>
<circle cx="250.23" cy="315.01" r="0.33" fill="#ecdcee" opacity="0.7"/>
<circle cx="194.56" cy="322.1" r="0.33" fill="#ecdcee" opacity="0.54"/>
<circle cx="237.79" cy="363.09" r="0.36" fill="#ecdcee" opacity="0.59"/>
<circle cx="260.45" cy="375.69" r="0.56" fill="#ecdcee" opacity="0.66"/>
<circle cx="286.26" cy="307.08" r="0.36" fill="#ecdcee" opacity="0.55"/>
<circle cx="224.83" cy="361.97" r="0.38" fill="#ecdcee" opacity="0.73"/>
<circle cx="261.73" cy="315.71" r="0.55" fill="#ecdcee" opacity="0.53"/>
<circle cx="197.03" cy="298.36" r="0.61" fill="#ecdcee" opacity="0.67"/>
<circle cx="225.46" cy="337.93" r="0.5" fill="#ecdcee" opacity="0.62"/>
<circle cx="279.1" cy="349.76" r="0.41" fill="#ecdcee" opacity="0.73"/>
<circle cx="249.03" cy="368.12" r="0.63" fill="#ecdcee" opacity="0.62"/>
<circle cx="237.07" cy="355.82" r="0.37" fill="#ecdcee" opacity="0.7"/>
<circle cx="194.75" cy="346.55" r="0.64" fill="#ecdcee" opacity="0.73"/>
<circle cx="288.16" cy="309.6" r="0.61" fill="#ecdcee" opacity="0.74"/>
<circle cx="255.14" cy="324.45" r="0.68" fill="#ecdcee" opacity="0.88"/>
<circle cx="243.33" cy="346.13" r="0.33" fill="#ecdcee" opacity="0.78"/>
<circle cx="262.65" cy="380.42" r="0.67" fill="#ecdcee" opacity="0.61"/>
<circle cx="233.46" cy="346.6" r="0.31" fill="#ecdcee" opacity="0.68"/>
<circle cx="209.14" cy="289.1" r="0.33" fill="#ecdcee" opacity="0.81"/>
<circle cx="204.82" cy="302.7" r="0.48" fill="#ecdcee" opacity="0.85"/>
<circle cx="199.37" cy="323.72" r="0.55" fill="#ecdcee" opacity="0.85"/>
<circle cx="281.88" cy="366.96" r="0.43" fill="#ecdcee" opacity="0.67"/>
<circle cx="230.45" cy="369.06" r="0.73" fill="#ecdcee" opacity="0.56"/>
<circle cx="210.06" cy="301.07" r="0.41" fill="#ecdcee" opacity="0.69"/>
<circle cx="256.17" cy="304.28" r="0.3" fill="#ecdcee" opacity="0.67"/>
<circle cx="231.62" cy="335.93" r="0.73" fill="#ecdcee" opacity="0.78"/>
<circle cx="247.95" cy="341.27" r="0.6" fill="#ecdcee" opacity="0.52"/>
<circle cx="290.84" cy="358.2" r="0.69" fill="#ecdcee" opacity="0.82"/>
<circle cx="234.2" cy="318.48" r="0.35" fill="#ecdcee" opacity="0.75"/>
<circle cx="197.33" cy="283.91" r="0.39" fill="#ecdcee" opacity="0.56"/>
<circle cx="228.35" cy="282.37" r="0.3" fill="#ecdcee" opacity="0.56"/>
<circle cx="201.71" cy="314.8" r="0.31" fill="#ecdcee" opacity="0.85"/>
<circle cx="258.96" cy="292.38" r="0.41" fill="#ecdcee" opacity="0.64"/>
<circle cx="231.05" cy="289.7" r="0.68" fill="#ecdcee" opacity="0.9"/>
<circle cx="242.42" cy="327.33" r="0.34" fill="#ecdcee" opacity="0.54"/>
<circle cx="228.64" cy="304.49" r="0.67" fill="#ecdcee" opacity="0.56"/>
<circle cx="192.95" cy="376.03" r="0.54" fill="#ecdcee" opacity="0.56"/>
<circle cx="251.04" cy="279.71" r="0.54" fill="#ecdcee" opacity="0.89"/>
<circle cx="286.8" cy="349.47" r="0.42" fill="#ecdcee" opacity="0.65"/>
<circle cx="209.03" cy="357.36" r="0.54" fill="#ecdcee" opacity="0.81"/>
<circle cx="227.19" cy="300.14" r="0.67" fill="#ecdcee" opacity="0.89"/>
<circle cx="285.6" cy="360.92" r="0.67" fill="#ecdcee" opacity="0.8"/>
<circle cx="215.7" cy="330.85" r="0.46" fill="#ecdcee" opacity="0.51"/>
<circle cx="193.49" cy="306.02" r="0.42" fill="#ecdcee" opacity="0.78"/>
<circle cx="297.21" cy="323.51" r="0.72" fill="#ecdcee" opacity="0.9"/>
<circle cx="215" cy="300.54" r="0.39" fill="#ecdcee" opacity="0.58"/>
<circle cx="260.08" cy="370.74" r="0.68" fill="#ecdcee" opacity="0.69"/>
<circle cx="263.31" cy="360.25" r="0.34" fill="#ecdcee" opacity="0.76"/>
<circle cx="291.99" cy="358.44" r="0.64" fill="#ecdcee" opacity="0.69"/>
<circle cx="210.31" cy="359.15" r="0.45" fill="#ecdcee" opacity="0.82"/>
<circle cx="235.21" cy="375.59" r="0.63" fill="#ecdcee" opacity="0.57"/>
<circle cx="204.56" cy="292.65" r="0.71" fill="#ecdcee" opacity="0.82"/>
<circle cx="206.7" cy="363.05" r="0.74" fill="#ecdcee" opacity="0.76"/>
<circle cx="229.51" cy="334.09" r="0.36" fill="#ecdcee" opacity="0.51"/>
<circle cx="298.81" cy="344.62" r="0.54" fill="#ecdcee" opacity="0.87"/>
<circle cx="238.83" cy="367.77" r="0.67" fill="#ecdcee" opacity="0.58"/>
<circle cx="218.5" cy="307.43" r="0.41" fill="#ecdcee" opacity="0.73"/>
<circle cx="219.34" cy="320.57" r="0.36" fill="#ecdcee" opacity="0.86"/>
<circle cx="229.89" cy="324.65" r="0.56" fill="#ecdcee" opacity="0.86"/>
<circle cx="237.35" cy="372.56" r="0.53" fill="#ecdcee" opacity="0.71"/>
<circle cx="248.84" cy="278.84" r="0.5" fill="#ecdcee" opacity="0.57"/>
<circle cx="190.81" cy="360.2" r="0.38" fill="#ecdcee" opacity="0.69"/>
<circle cx="271.37" cy="334.9" r="0.45" fill="#ecdcee" opacity="0.71"/>
<circle cx="252.41" cy="358.65" r="0.35" fill="#ecdcee" opacity="0.72"/>
<circle cx="218.13" cy="305.76" r="0.65" fill="#ecdcee" opacity="0.7"/>
<circle cx="253.11" cy="356.12" r="0.71" fill="#ecdcee" opacity="0.68"/>
<circle cx="258.79" cy="329.59" r="0.53" fill="#ecdcee" opacity="0.78"/>
<circle cx="240.9" cy="332.48" r="0.52" fill="#ecdcee" opacity="0.88"/>
<circle cx="268.47" cy="368.27" r="0.72" fill="#ecdcee" opacity="0.6"/>
<circle cx="252.87" cy="375.22" r="0.68" fill="#ecdcee" opacity="0.55"/>
<circle cx="203.96" cy="322.98" r="0.33" fill="#ecdcee" opacity="0.6"/>
<circle cx="198.54" cy="346.68" r="0.65" fill="#ecdcee" opacity="0.86"/>
<circle cx="207.62" cy="351.54" r="0.6" fill="#ecdcee" opacity="0.56"/>
<circle cx="214.9" cy="376.19" r="0.48" fill="#ecdcee" opacity="0.69"/>
<circle cx="208.41" cy="321.88" r="0.53" fill="#ecdcee" opacity="0.64"/>
<circle cx="212.24" cy="310.1" r="0.62" fill="#ecdcee" opacity="0.51"/>
<circle cx="252.26" cy="322.81" r="0.31" fill="#ecdcee" opacity="0.63"/>
<circle cx="260.06" cy="330.29" r="0.33" fill="#ecdcee" opacity="0.89"/>
<circle cx="202.08" cy="304.58" r="0.32" fill="#ecdcee" opacity="0.81"/>
<circle cx="220.58" cy="290.4" r="0.49" fill="#ecdcee" opacity="0.86"/>
<circle cx="281.85" cy="303.85" r="0.37" fill="#ecdcee" opacity="0.87"/>
<circle cx="254.1" cy="349.91" r="0.34" fill="#ecdcee" opacity="0.52"/>
<circle cx="267.24" cy="321.23" r="0.33" fill="#ecdcee" opacity="0.88"/>
<circle cx="261.23" cy="360.46" r="0.34" fill="#ecdcee" opacity="0.84"/>
<circle cx="197.82" cy="366.83" r="0.5" fill="#ecdcee" opacity="0.64"/>
<circle cx="252.15" cy="373.49" r="0.42" fill="#ecdcee" opacity="0.55"/>
<circle cx="249.23" cy="301.75" r="0.35" fill="#ecdcee" opacity="0.56"/>
<circle cx="196" cy="297.93" r="0.44" fill="#ecdcee" opacity="0.62"/>
<circle cx="275.2" cy="307.12" r="0.53" fill="#ecdcee" opacity="0.57"/>
<circle cx="229.13" cy="278.79" r="0.41" fill="#ecdcee" opacity="0.51"/>
<circle cx="272.25" cy="334.34" r="0.39" fill="#ecdcee" opacity="0.69"/>
<circle cx="281.84" cy="321.94" r="0.52" fill="#ecdcee" opacity="0.83"/>
<circle cx="234.28" cy="329.71" r="0.61" fill="#ecdcee" opacity="0.89"/>
<circle cx="228.65" cy="363.65" r="0.62" fill="#ecdcee" opacity="0.75"/>
<circle cx="235.57" cy="313.12" r="0.32" fill="#ecdcee" opacity="0.55"/>
<circle cx="198.27" cy="354.13" r="0.42" fill="#ecdcee" opacity="0.57"/>
<circle cx="199.81" cy="364.59" r="0.69" fill="#ecdcee" opacity="0.77"/>
<circle cx="221.86" cy="302.14" r="0.43" fill="#ecdcee" opacity="0.68"/>
<circle cx="207.97" cy="323.37" r="0.42" fill="#ecdcee" opacity="0.88"/>
<circle cx="299.01" cy="333.92" r="0.41" fill="#ecdcee" opacity="0.89"/>
<circle cx="224.95" cy="314.06" r="0.3" fill="#ecdcee" opacity="0.65"/>
<circle cx="243.39" cy="329.3" r="0.39" fill="#ecdcee" opacity="0.7"/>
<circle cx="190.93" cy="304.43" r="0.34" fill="#ecdcee" opacity="0.66"/>
<circle cx="195.03" cy="279.24" r="0.44" fill="#ecdcee" opacity="0.59"/>
<circle cx="255.78" cy="332.06" r="0.64" fill="#ecdcee" opacity="0.76"/>
<circle cx="270.34" cy="368.53" r="0.48" fill="#ecdcee" opacity="0.63"/>
<circle cx="271.26" cy="343.94" r="0.32" fill="#ecdcee" opacity="0.83"/>
<circle cx="290" cy="342.29" r="0.63" fill="#ecdcee" opacity="0.82"/>
<circle cx="205.93" cy="331.49" r="0.53" fill="#ecdcee" opacity="0.83"/>
<circle cx="280.25" cy="363.04" r="0.56" fill="#ecdcee" opacity="0.86"/>
<circle cx="266.65" cy="349.17" r="0.4" fill="#ecdcee" opacity="0.51"/>
<circle cx="205.24" cy="314.49" r="0.35" fill="#ecdcee" opacity="0.83"/>
<circle cx="252.76" cy="342.33" r="0.58" fill="#ecdcee" opacity="0.77"/>
<circle cx="245.02" cy="277.24" r="0.66" fill="#ecdcee" opacity="0.8"/>
<circle cx="246.55" cy="332.68" r="0.6" fill="#ecdcee" opacity="0.53"/>
<circle cx="272.67" cy="303.18" r="0.33" fill="#ecdcee" opacity="0.61"/>
<circle cx="271.83" cy="298.28" r="0.63" fill="#ecdcee" opacity="0.89"/>
<circle cx="245.54" cy="316.77" r="0.52" fill="#ecdcee" opacity="0.77"/>
<circle cx="276.04" cy="341.21" r="0.59" fill="#ecdcee" opacity="0.53"/>
<circle cx="206.84" cy="303.36" r="0.63" fill="#ecdcee" opacity="0.62"/>
<circle cx="253.79" cy="278.19" r="0.33" fill="#ecdcee" opacity="0.61"/>
<circle cx="265.43" cy="349.05" r="0.6" fill="#ecdcee" opacity="0.62"/>
<circle cx="248.07" cy="325.33" r="0.51" fill="#ecdcee" opacity="0.55"/>
<circle cx="192.33" cy="324.74" r="0.67" fill="#ecdcee" opacity="0.89"/>
<circle cx="240.57" cy="304.9" r="0.39" fill="#ecdcee" opacity="0.88"/>
<circle cx="213.91" cy="337.51" r="0.36" fill="#ecdcee" opacity="0.71"/>
<circle cx="281.98" cy="329.93" r="0.7" fill="#ecdcee" opacity="0.78"/>
<circle cx="216.22" cy="370.47" r="0.52" fill="#ecdcee" opacity="0.51"/>
<circle cx="190.78" cy="328.15" r="0.5" fill="#ecdcee" opacity="0.62"/>
<circle cx="206.09" cy="312.75" r="0.44" fill="#ecdcee" opacity="0.84"/>
<circle cx="190.57" cy="355.15" r="0.68" fill="#ecdcee" opacity="0.55"/>
<circle cx="293.84" cy="351.22" r="0.71" fill="#ecdcee" opacity="0.62"/>
<circle cx="231.95" cy="317.85" r="0.75" fill="#ecdcee" opacity="0.74"/>
<circle cx="230.66" cy="321.51" r="0.42" fill="#ecdcee" opacity="0.52"/>
<circle cx="201.73" cy="363.9" r="0.43" fill="#ecdcee" opacity="0.87"/>
<circle cx="218.22" cy="304.59" r="0.53" fill="#ecdcee" opacity="0.58"/>
<circle cx="232.07" cy="376.57" r="0.7" fill="#ecdcee" opacity="0.82"/>
<circle cx="260.84" cy="372.11" r="0.72" fill="#ecdcee" opacity="0.72"/>
<circle cx="272.17" cy="323.89" r="0.64" fill="#ecdcee" opacity="0.76"/>
<circle cx="222.34" cy="282" r="0.72" fill="#ecdcee" opacity="0.55"/>
<circle cx="243.11" cy="312.72" r="0.43" fill="#ecdcee" opacity="0.8"/>
<circle cx="263.64" cy="308.25" r="0.55" fill="#ecdcee" opacity="0.66"/>
<circle cx="209.06" cy="293.74" r="0.39" fill="#ecdcee" opacity="0.86"/>
<circle cx="245.89" cy="299.83" r="0.71" fill="#ecdcee" opacity="0.9"/>
<circle cx="240.63" cy="291.44" r="0.39" fill="#ecdcee" opacity="0.54"/>
<circle cx="228.57" cy="286.39" r="0.41" fill="#ecdcee" opacity="0.6"/>
<circle cx="253.99" cy="369.38" r="0.64" fill="#ecdcee" opacity="0.67"/>
<circle cx="236.6" cy="331.53" r="0.47" fill="#ecdcee" opacity="0.64"/>
<circle cx="197.31" cy="305.82" r="0.74" fill="#ecdcee" opacity="0.55"/>
<circle cx="246.6" cy="342.53" r="0.69" fill="#ecdcee" opacity="0.59"/>
<circle cx="220.64" cy="302.79" r="0.48" fill="#ecdcee" opacity="0.68"/>
<circle cx="193.98" cy="350.85" r="0.7" fill="#ecdcee" opacity="0.69"/>
<circle cx="255.96" cy="276.91" r="0.48" fill="#ecdcee" opacity="0.87"/>
<circle cx="282.58" cy="366.07" r="0.74" fill="#ecdcee" opacity="0.6"/>
<circle cx="202.55" cy="292.99" r="0.54" fill="#ecdcee" opacity="0.77"/>
<circle cx="295.53" cy="352.13" r="0.59" fill="#ecdcee" opacity="0.81"/>
<circle cx="241.45" cy="334.38" r="0.32" fill="#ecdcee" opacity="0.81"/>
<circle cx="216.35" cy="372.79" r="0.59" fill="#ecdcee" opacity="0.62"/>
<circle cx="204.67" cy="303.14" r="0.59" fill="#ecdcee" opacity="0.78"/>
<circle cx="202.9" cy="284.23" r="0.54" fill="#ecdcee" opacity="0.73"/>
<circle cx="233.72" cy="300.2" r="0.57" fill="#ecdcee" opacity="0.5"/>
<circle cx="224.05" cy="324.92" r="0.73" fill="#ecdcee" opacity="0.76"/>
<circle cx="289.08" cy="326.44" r="0.41" fill="#ecdcee" opacity="0.6"/>
<circle cx="297.67" cy="350.35" r="0.44" fill="#ecdcee" opacity="0.51"/>
<circle cx="246.03" cy="347.2" r="0.49" fill="#ecdcee" opacity="0.6"/>
<circle cx="264.91" cy="373.33" r="0.4" fill="#ecdcee" opacity="0.51"/>
<circle cx="228.13" cy="320.73" r="0.61" fill="#ecdcee" opacity="0.58"/>
<circle cx="279.4" cy="353.94" r="0.53" fill="#ecdcee" opacity="0.58"/>
<circle cx="215.11" cy="356.17" r="0.43" fill="#ecdcee" opacity="0.88"/>
<circle cx="245.75" cy="296.42" r="0.4" fill="#ecdcee" opacity="0.67"/>
<circle cx="264.68" cy="375.79" r="0.37" fill="#ecdcee" opacity="0.66"/>
<circle cx="214.16" cy="378.44" r="0.36" fill="#ecdcee" opacity="0.52"/>
<circle cx="197.09" cy="317.89" r="0.7" fill="#ecdcee" opacity="0.85"/>
<circle cx="272.21" cy="380.88" r="0.72" fill="#ecdcee" opacity="0.63"/>
<circle cx="211.09" cy="374.45" r="0.64" fill="#ecdcee" opacity="0.51"/>
<circle cx="264.58" cy="316.36" r="0.47" fill="#ecdcee" opacity="0.63"/>
<circle cx="209.28" cy="277.19" r="0.43" fill="#ecdcee" opacity="0.64"/>
<circle cx="230.21" cy="362.54" r="0.67" fill="#ecdcee" opacity="0.67"/>
<circle cx="195.88" cy="326.25" r="0.47" fill="#ecdcee" opacity="0.87"/>
<circle cx="211.93" cy="314.86" r="0.7" fill="#ecdcee" opacity="0.51"/>
<circle cx="236.26" cy="361.52" r="0.65" fill="#ecdcee" opacity="0.52"/>
<circle cx="194.27" cy="283.42" r="0.71" fill="#ecdcee" opacity="0.6"/>
<circle cx="273.84" cy="370.56" r="0.45" fill="#ecdcee" opacity="0.61"/>
<circle cx="297.34" cy="341.21" r="0.42" fill="#ecdcee" opacity="0.79"/>
<circle cx="225.72" cy="305.62" r="0.3" fill="#ecdcee" opacity="0.8"/>
<circle cx="292.73" cy="342.98" r="0.72" fill="#ecdcee" opacity="0.51"/>
<circle cx="216.49" cy="326.43" r="0.73" fill="#ecdcee" opacity="0.88"/>
<circle cx="233.54" cy="303.06" r="0.49" fill="#ecdcee" opacity="0.7"/>
<circle cx="280.01" cy="353.88" r="0.67" fill="#ecdcee" opacity="0.81"/>
<circle cx="258.2" cy="311.06" r="0.44" fill="#ecdcee" opacity="0.64"/>
<circle cx="212.41" cy="355.38" r="0.41" fill="#ecdcee" opacity="0.53"/>
<circle cx="194.16" cy="334.5" r="0.45" fill="#ecdcee" opacity="0.89"/>
<circle cx="219.96" cy="285.66" r="0.34" fill="#ecdcee" opacity="0.7"/>
<circle cx="269.65" cy="323.49" r="0.41" fill="#ecdcee" opacity="0.67"/>
<circle cx="259.66" cy="347.16" r="0.64" fill="#ecdcee" opacity="0.84"/>
<circle cx="264.58" cy="289.52" r="0.68" fill="#ecdcee" opacity="0.62"/>
<circle cx="253.69" cy="315.77" r="0.63" fill="#ecdcee" opacity="0.58"/>
<circle cx="218.01" cy="302.47" r="0.37" fill="#ecdcee" opacity="0.85"/>
<circle cx="254.96" cy="310.91" r="0.48" fill="#ecdcee" opacity="0.9"/>
<circle cx="247.04" cy="301.01" r="0.66" fill="#ecdcee" opacity="0.76"/>
<circle cx="243.4" cy="362.28" r="0.68" fill="#ecdcee" opacity="0.87"/>
<circle cx="194.88" cy="307.51" r="0.35" fill="#ecdcee" opacity="0.58"/>
<circle cx="299.04" cy="337.69" r="0.72" fill="#ecdcee" opacity="0.65"/>
<circle cx="287.11" cy="323.71" r="0.42" fill="#ecdcee" opacity="0.81"/>
<circle cx="306.53" cy="338.94" r="14.89" fill="none" stroke="#f6f270" stroke-width="2" stroke-dasharray="6.5 3.2"/>
<rect x="321" y="380.5" width="11" height="2.2" fill="#fff" stroke="#333" stroke-width="0.4"/>
</g>
<text x="165.2" y="399.8" font-family='"Liberation Serif", serif' font-size="13.1" font-weight="bold" font-style="normal" text-anchor="start" fill="#111">DEN9m</text>
<text x="357.3" y="11.8" font-family='"Liberation Serif", serif' font-size="16.5" font-weight="bold" font-style="normal" text-anchor="start" fill="#000">C</text>
<text x="387.3" y="84.5" font-family='"Liberation Sans", sans-serif' font-size="12.6" font-weight="bold" font-style="normal" text-anchor="middle" fill="#000" transform="rotate(-90 387.3 84.5)">Relative mRNA expression</text>
<line x1="426.05" y1="14.75" x2="426.05" y2="163.25" stroke="#000" stroke-width="1.5"/>
<line x1="425.3" y1="162.5" x2="646.5" y2="162.5" stroke="#000" stroke-width="1.5"/>
<line x1="420.6" y1="15.5" x2="426" y2="15.5" stroke="#000" stroke-width="1.4"/>
<text x="419.6" y="19.24" font-family='"Liberation Sans", sans-serif' font-size="10.4" font-weight="bold" font-style="normal" text-anchor="end" fill="#000">2.5</text>
<line x1="420.6" y1="44.9" x2="426" y2="44.9" stroke="#000" stroke-width="1.4"/>
<text x="419.6" y="48.64" font-family='"Liberation Sans", sans-serif' font-size="10.4" font-weight="bold" font-style="normal" text-anchor="end" fill="#000">2.0</text>
<line x1="420.6" y1="74.3" x2="426" y2="74.3" stroke="#000" stroke-width="1.4"/>
<text x="419.6" y="78.04" font-family='"Liberation Sans", sans-serif' font-size="10.4" font-weight="bold" font-style="normal" text-anchor="end" fill="#000">1.5</text>
<line x1="420.6" y1="103.7" x2="426" y2="103.7" stroke="#000" stroke-width="1.4"/>
<text x="419.6" y="107.44" font-family='"Liberation Sans", sans-serif' font-size="10.4" font-weight="bold" font-style="normal" text-anchor="end" fill="#000">1.0</text>
<line x1="420.6" y1="133.1" x2="426" y2="133.1" stroke="#000" stroke-width="1.4"/>
<text x="419.6" y="136.84" font-family='"Liberation Sans", sans-serif' font-size="10.4" font-weight="bold" font-style="normal" text-anchor="end" fill="#000">0.5</text>
<line x1="420.6" y1="162.5" x2="426" y2="162.5" stroke="#000" stroke-width="1.4"/>
<text x="419.6" y="166.24" font-family='"Liberation Sans", sans-serif' font-size="10.4" font-weight="bold" font-style="normal" text-anchor="end" fill="#000">0.0</text>
<line x1="462.7" y1="162.5" x2="462.7" y2="168" stroke="#000" stroke-width="1.4"/>
<line x1="536" y1="162.5" x2="536" y2="168" stroke="#000" stroke-width="1.4"/>
<line x1="609.4" y1="162.5" x2="609.4" y2="168" stroke="#000" stroke-width="1.4"/>
<text x="462.5" y="178.2" font-family='"Liberation Sans", sans-serif' font-size="11" font-weight="bold" font-style="italic" text-anchor="middle" fill="#000">Afp</text>
<text x="535.8" y="178.2" font-family='"Liberation Sans", sans-serif' font-size="11" font-weight="bold" font-style="italic" text-anchor="middle" fill="#000">Serpina1</text>
<text x="609.5" y="178.2" font-family='"Liberation Sans", sans-serif' font-size="11" font-weight="bold" font-style="italic" text-anchor="middle" fill="#000">Col3a1</text>
<text x="537.5" y="200" font-family='"Liberation Sans", sans-serif' font-size="12.75" font-weight="bold" font-style="normal" text-anchor="middle" fill="#000">DEN12m</text>
<circle cx="619.75" cy="8.3" r="3" fill="#000"/>
<rect x="616.95" y="22.7" width="5.6" height="5.6" fill="#E23B24"/>
<text x="636.5" y="12.1" font-family='"Liberation Sans", sans-serif' font-size="11.1" font-weight="bold" font-style="italic" fill="#000" letter-spacing="0.55">med23<tspan font-size="8.3" font-style="normal" dy="-3.5" dx="-0.9" letter-spacing="0.15">f/f</tspan></text>
<text x="636.5" y="29.3" font-family='"Liberation Sans", sans-serif' font-size="11.1" font-weight="bold" font-style="italic" fill="#000" letter-spacing="0.55">med23<tspan font-size="7.47" font-style="normal" dy="-3.5" dx="-0.9" letter-spacing="0">Δli</tspan></text>
<line x1="448.9" y1="82.3" x2="448.9" y2="124.8" stroke="#000" stroke-width="1.35"/>
<line x1="443.9" y1="82.3" x2="453.9" y2="82.3" stroke="#000" stroke-width="1.35"/>
<line x1="443.9" y1="124.8" x2="453.9" y2="124.8" stroke="#000" stroke-width="1.35"/>
<line x1="439.7" y1="103.6" x2="458.1" y2="103.6" stroke="#000" stroke-width="1.35"/>
<circle cx="448.75" cy="36" r="3" fill="#000"/>
<circle cx="448.75" cy="86.75" r="3" fill="#000"/>
<circle cx="448.75" cy="100" r="3" fill="#000"/>
<circle cx="448.75" cy="139.5" r="3" fill="#000"/>
<circle cx="448.75" cy="156" r="3" fill="#000"/>
<rect x="473.3" y="131.3" width="5.6" height="5.6" fill="#E23B24"/>
<rect x="473.3" y="142.9" width="5.6" height="5.6" fill="#E23B24"/>
<rect x="478.2" y="153.7" width="5.6" height="5.6" fill="#E23B24"/>
<rect x="469.1" y="158.7" width="5.6" height="5.6" fill="#E23B24"/>
<rect x="473.5" y="159.2" width="5.6" height="5.6" fill="#E23B24"/>
<rect x="475.8" y="158.8" width="5.6" height="5.6" fill="#E23B24"/>
<line x1="476.1" y1="148.9" x2="476.1" y2="158.5" stroke="#E23B24" stroke-width="1.35"/>
<line x1="471.1" y1="148.9" x2="481.1" y2="148.9" stroke="#E23B24" stroke-width="1.35"/>
<line x1="471.1" y1="158.5" x2="481.1" y2="158.5" stroke="#E23B24" stroke-width="1.35"/>
<line x1="466.9" y1="153.6" x2="485.3" y2="153.6" stroke="#000" stroke-width="1.35"/>
<text x="476.9" y="129.56" font-family='"Liberation Sans", sans-serif' font-size="10.5" font-weight="bold" font-style="normal" text-anchor="middle" fill="#333">*</text>
<line x1="522.25" y1="96.3" x2="522.25" y2="111" stroke="#000" stroke-width="1.35"/>
<line x1="517.25" y1="96.3" x2="527.25" y2="96.3" stroke="#000" stroke-width="1.35"/>
<line x1="517.25" y1="111" x2="527.25" y2="111" stroke="#000" stroke-width="1.35"/>
<line x1="513.05" y1="103.6" x2="531.45" y2="103.6" stroke="#000" stroke-width="1.35"/>
<circle cx="522.25" cy="73" r="3" fill="#000"/>
<circle cx="517.75" cy="101.5" r="3" fill="#000"/>
<circle cx="522.25" cy="100.6" r="3" fill="#000"/>
<circle cx="527" cy="101" r="3" fill="#000"/>
<circle cx="526" cy="118" r="3" fill="#000"/>
<circle cx="517.5" cy="125" r="3" fill="#000"/>
<rect x="547.45" y="105.95" width="5.6" height="5.6" fill="#E23B24"/>
<rect x="551.7" y="111.95" width="5.6" height="5.6" fill="#E23B24"/>
<rect x="542.45" y="120.2" width="5.6" height="5.6" fill="#E23B24"/>
<rect x="547.45" y="132.95" width="5.6" height="5.6" fill="#E23B24"/>
<rect x="551.7" y="148.2" width="5.6" height="5.6" fill="#E23B24"/>
<rect x="542.45" y="152.7" width="5.6" height="5.6" fill="#E23B24"/>
<line x1="549.9" y1="123.5" x2="549.9" y2="139.2" stroke="#E23B24" stroke-width="1.35"/>
<line x1="544.9" y1="123.5" x2="554.9" y2="123.5" stroke="#E23B24" stroke-width="1.35"/>
<line x1="544.9" y1="139.2" x2="554.9" y2="139.2" stroke="#E23B24" stroke-width="1.35"/>
<line x1="540.7" y1="131.2" x2="559.1" y2="131.2" stroke="#000" stroke-width="1.35"/>
<text x="550.2" y="104.86" font-family='"Liberation Sans", sans-serif' font-size="10.5" font-weight="bold" font-style="normal" text-anchor="middle" fill="#333">*</text>
<line x1="595.9" y1="87.2" x2="595.9" y2="120" stroke="#000" stroke-width="1.35"/>
<line x1="590.9" y1="87.2" x2="600.9" y2="87.2" stroke="#000" stroke-width="1.35"/>
<line x1="590.9" y1="120" x2="600.9" y2="120" stroke="#000" stroke-width="1.35"/>
<line x1="586.5" y1="103.6" x2="605.3" y2="103.6" stroke="#000" stroke-width="1.35"/>
<circle cx="591.5" cy="55" r="3" fill="#000"/>
<circle cx="600.5" cy="55.25" r="3" fill="#000"/>
<circle cx="596" cy="104.5" r="3" fill="#000"/>
<circle cx="591.5" cy="124.5" r="3" fill="#000"/>
<circle cx="600.4" cy="131" r="3" fill="#000"/>
<circle cx="596" cy="150.75" r="3" fill="#000"/>
<rect x="616.2" y="108.2" width="5.6" height="5.6" fill="#E23B24"/>
<rect x="625.45" y="105.2" width="5.6" height="5.6" fill="#E23B24"/>
<rect x="620.7" y="134.2" width="5.6" height="5.6" fill="#E23B24"/>
<rect x="616.2" y="154.95" width="5.6" height="5.6" fill="#E23B24"/>
<rect x="625.45" y="154.7" width="5.6" height="5.6" fill="#E23B24"/>
<line x1="623.6" y1="123.5" x2="623.6" y2="145" stroke="#E23B24" stroke-width="1.35"/>
<line x1="618.6" y1="123.5" x2="628.6" y2="123.5" stroke="#E23B24" stroke-width="1.35"/>
<line x1="618.6" y1="145" x2="628.6" y2="145" stroke="#E23B24" stroke-width="1.35"/>
<line x1="614.4" y1="134.2" x2="632.8" y2="134.2" stroke="#000" stroke-width="1.35"/>
<text x="360.2" y="209" font-family='"Liberation Serif", serif' font-size="16.3" font-weight="bold" font-style="normal" text-anchor="start" fill="#000">D</text>
<text x="387.3" y="294.5" font-family='"Liberation Sans", sans-serif' font-size="12.6" font-weight="bold" font-style="normal" text-anchor="middle" fill="#000" transform="rotate(-90 387.3 294.5)">Relative mRNA expression</text>
<line x1="426.05" y1="224.25" x2="426.05" y2="373.25" stroke="#000" stroke-width="1.5"/>
<line x1="425.3" y1="372.5" x2="646.5" y2="372.5" stroke="#000" stroke-width="1.5"/>
<line x1="420.6" y1="225" x2="426" y2="225" stroke="#000" stroke-width="1.4"/>
<text x="419.6" y="228.74" font-family='"Liberation Sans", sans-serif' font-size="10.4" font-weight="bold" font-style="normal" text-anchor="end" fill="#000">2.5</text>
<line x1="420.6" y1="254.5" x2="426" y2="254.5" stroke="#000" stroke-width="1.4"/>
<text x="419.6" y="258.24" font-family='"Liberation Sans", sans-serif' font-size="10.4" font-weight="bold" font-style="normal" text-anchor="end" fill="#000">2.0</text>
<line x1="420.6" y1="284" x2="426" y2="284" stroke="#000" stroke-width="1.4"/>
<text x="419.6" y="287.74" font-family='"Liberation Sans", sans-serif' font-size="10.4" font-weight="bold" font-style="normal" text-anchor="end" fill="#000">1.5</text>
<line x1="420.6" y1="313.5" x2="426" y2="313.5" stroke="#000" stroke-width="1.4"/>
<text x="419.6" y="317.24" font-family='"Liberation Sans", sans-serif' font-size="10.4" font-weight="bold" font-style="normal" text-anchor="end" fill="#000">1.0</text>
<line x1="420.6" y1="343" x2="426" y2="343" stroke="#000" stroke-width="1.4"/>
<text x="419.6" y="346.74" font-family='"Liberation Sans", sans-serif' font-size="10.4" font-weight="bold" font-style="normal" text-anchor="end" fill="#000">0.5</text>
<line x1="420.6" y1="372.5" x2="426" y2="372.5" stroke="#000" stroke-width="1.4"/>
<text x="419.6" y="376.24" font-family='"Liberation Sans", sans-serif' font-size="10.4" font-weight="bold" font-style="normal" text-anchor="end" fill="#000">0.0</text>
<line x1="462.7" y1="372.5" x2="462.7" y2="378" stroke="#000" stroke-width="1.4"/>
<line x1="536" y1="372.5" x2="536" y2="378" stroke="#000" stroke-width="1.4"/>
<line x1="609.4" y1="372.5" x2="609.4" y2="378" stroke="#000" stroke-width="1.4"/>
<text x="463" y="388.4" font-family='"Liberation Sans", sans-serif' font-size="11" font-weight="bold" font-style="italic" text-anchor="middle" fill="#000">Cd45</text>
<text x="537" y="388.4" font-family='"Liberation Sans", sans-serif' font-size="11" font-weight="bold" font-style="italic" text-anchor="middle" fill="#000">Tnfα</text>
<text x="610.2" y="388.4" font-family='"Liberation Sans", sans-serif' font-size="11" font-weight="bold" font-style="italic" text-anchor="middle" fill="#000">Ccl5</text>
<text x="537.5" y="410" font-family='"Liberation Sans", sans-serif' font-size="12.75" font-weight="bold" font-style="normal" text-anchor="middle" fill="#000">DEN12m</text>
<circle cx="619.75" cy="223" r="3" fill="#000"/>
<rect x="616.95" y="237.2" width="5.6" height="5.6" fill="#E23B24"/>
<text x="636.5" y="226.8" font-family='"Liberation Sans", sans-serif' font-size="11.1" font-weight="bold" font-style="italic" fill="#000" letter-spacing="0.55">med23<tspan font-size="8.3" font-style="normal" dy="-3.5" dx="-0.9" letter-spacing="0.15">f/f</tspan></text>
<text x="636.5" y="243.8" font-family='"Liberation Sans", sans-serif' font-size="11.1" font-weight="bold" font-style="italic" fill="#000" letter-spacing="0.55">med23<tspan font-size="7.47" font-style="normal" dy="-3.5" dx="-0.9" letter-spacing="0">Δli</tspan></text>
<line x1="448.9" y1="303.2" x2="448.9" y2="323.5" stroke="#000" stroke-width="1.35"/>
<line x1="443.9" y1="303.2" x2="453.9" y2="303.2" stroke="#000" stroke-width="1.35"/>
<line x1="443.9" y1="323.5" x2="453.9" y2="323.5" stroke="#000" stroke-width="1.35"/>
<line x1="439.7" y1="313.5" x2="458.1" y2="313.5" stroke="#000" stroke-width="1.35"/>
<circle cx="448.75" cy="272.75" r="3" fill="#000"/>
<circle cx="453.25" cy="305.75" r="3" fill="#000"/>
<circle cx="439.75" cy="312.5" r="3" fill="#000"/>
<circle cx="444.25" cy="316.75" r="3" fill="#000"/>
<circle cx="453.25" cy="325.75" r="3" fill="#000"/>
<circle cx="448.75" cy="347.5" r="3" fill="#000"/>
<rect x="473.45" y="321.95" width="5.6" height="5.6" fill="#E23B24"/>
<rect x="468.95" y="334.7" width="5.6" height="5.6" fill="#E23B24"/>
<rect x="482.5" y="336.7" width="5.6" height="5.6" fill="#E23B24"/>
<rect x="478.2" y="342.2" width="5.6" height="5.6" fill="#E23B24"/>
<rect x="468.95" y="347.95" width="5.6" height="5.6" fill="#E23B24"/>
<line x1="476.3" y1="335.5" x2="476.3" y2="344.6" stroke="#E23B24" stroke-width="1.35"/>
<line x1="471.3" y1="335.5" x2="481.3" y2="335.5" stroke="#E23B24" stroke-width="1.35"/>
<line x1="471.3" y1="344.6" x2="481.3" y2="344.6" stroke="#E23B24" stroke-width="1.35"/>
<line x1="467.1" y1="340" x2="485.5" y2="340" stroke="#000" stroke-width="1.35"/>
<text x="476.5" y="319.86" font-family='"Liberation Sans", sans-serif' font-size="10.5" font-weight="bold" font-style="normal" text-anchor="middle" fill="#333">*</text>
<line x1="522.25" y1="299.2" x2="522.25" y2="327.5" stroke="#000" stroke-width="1.35"/>
<line x1="517.25" y1="299.2" x2="527.25" y2="299.2" stroke="#000" stroke-width="1.35"/>
<line x1="517.25" y1="327.5" x2="527.25" y2="327.5" stroke="#000" stroke-width="1.35"/>
<line x1="513.05" y1="313.5" x2="531.45" y2="313.5" stroke="#000" stroke-width="1.35"/>
<circle cx="522.25" cy="258.5" r="3" fill="#000"/>
<circle cx="522.25" cy="289.75" r="3" fill="#000"/>
<circle cx="522.25" cy="313.25" r="3" fill="#000"/>
<circle cx="517.75" cy="332.5" r="3" fill="#000"/>
<circle cx="526.5" cy="335" r="3" fill="#000"/>
<circle cx="522.25" cy="351.75" r="3" fill="#000"/>
<rect x="546.95" y="329.45" width="5.6" height="5.6" fill="#E23B24"/>
<rect x="546.95" y="340.45" width="5.6" height="5.6" fill="#E23B24"/>
<rect x="542.45" y="348.95" width="5.6" height="5.6" fill="#E23B24"/>
<rect x="551.7" y="352.7" width="5.6" height="5.6" fill="#E23B24"/>
<rect x="546.95" y="355.2" width="5.6" height="5.6" fill="#E23B24"/>
<line x1="549.9" y1="343.7" x2="549.9" y2="353" stroke="#E23B24" stroke-width="1.35"/>
<line x1="544.9" y1="343.7" x2="554.9" y2="343.7" stroke="#E23B24" stroke-width="1.35"/>
<line x1="544.9" y1="353" x2="554.9" y2="353" stroke="#E23B24" stroke-width="1.35"/>
<line x1="540.7" y1="348.5" x2="559.1" y2="348.5" stroke="#000" stroke-width="1.35"/>
<text x="549.8" y="328.36" font-family='"Liberation Sans", sans-serif' font-size="10.5" font-weight="bold" font-style="normal" text-anchor="middle" fill="#333">*</text>
<line x1="595.9" y1="301.5" x2="595.9" y2="325" stroke="#000" stroke-width="1.35"/>
<line x1="590.9" y1="301.5" x2="600.9" y2="301.5" stroke="#000" stroke-width="1.35"/>
<line x1="590.9" y1="325" x2="600.9" y2="325" stroke="#000" stroke-width="1.35"/>
<circle cx="591.5" cy="290.5" r="3" fill="#000"/>
<circle cx="601" cy="290" r="3" fill="#000"/>
<circle cx="596" cy="293.25" r="3" fill="#000"/>
<circle cx="596" cy="307.5" r="3" fill="#000"/>
<circle cx="596" cy="343.25" r="3" fill="#000"/>
<circle cx="596" cy="356.75" r="3" fill="#000"/>
<rect x="620.7" y="346.45" width="5.6" height="5.6" fill="#E23B24"/>
<rect x="616.1" y="355" width="5.6" height="5.6" fill="#E23B24"/>
<rect x="620.7" y="355" width="5.6" height="5.6" fill="#E23B24"/>
<rect x="625.2" y="355" width="5.6" height="5.6" fill="#E23B24"/>
<rect x="618.2" y="358.2" width="5.6" height="5.6" fill="#E23B24"/>
<rect x="623.2" y="358.2" width="5.6" height="5.6" fill="#E23B24"/>
<rect x="618" y="359.8" width="5.6" height="5.6" fill="#E23B24"/>
<rect x="623.2" y="359.8" width="5.6" height="5.6" fill="#E23B24"/>
<rect x="620.7" y="360.2" width="5.6" height="5.6" fill="#E23B24"/>
<line x1="614.4" y1="358.5" x2="632.8" y2="358.5" stroke="#000" stroke-width="1.35"/>
<text x="623.5" y="345.86" font-family='"Liberation Sans", sans-serif' font-size="10.5" font-weight="bold" font-style="normal" text-anchor="middle" fill="#333">*</text>
<text x="2" y="415.1" font-family='"Liberation Serif", serif' font-size="15.3" font-weight="bold" font-style="normal" text-anchor="start" fill="#000">B</text>
<text x="42.8" y="523.8" font-family='"Liberation Sans", sans-serif' font-size="12.6" font-weight="bold" font-style="normal" text-anchor="middle" fill="#000" transform="rotate(-90 42.8 523.8)">Tumor mass (%)</text>
<line x1="71.9" y1="446.8" x2="71.9" y2="600.7" stroke="#000" stroke-width="1.6"/>
<line x1="71.1" y1="599.9" x2="172.5" y2="599.9" stroke="#000" stroke-width="1.6"/>
<line x1="67.4" y1="447.6" x2="71.9" y2="447.6" stroke="#000" stroke-width="1.6"/>
<text x="67.1" y="451.92" font-family='"Liberation Sans", sans-serif' font-size="12" font-weight="bold" font-style="normal" text-anchor="end" fill="#000">80</text>
<line x1="67.4" y1="485.6" x2="71.9" y2="485.6" stroke="#000" stroke-width="1.6"/>
<text x="67.1" y="489.92" font-family='"Liberation Sans", sans-serif' font-size="12" font-weight="bold" font-style="normal" text-anchor="end" fill="#000">60</text>
<line x1="67.4" y1="523.5" x2="71.9" y2="523.5" stroke="#000" stroke-width="1.6"/>
<text x="67.1" y="527.82" font-family='"Liberation Sans", sans-serif' font-size="12" font-weight="bold" font-style="normal" text-anchor="end" fill="#000">40</text>
<line x1="67.4" y1="561.7" x2="71.9" y2="561.7" stroke="#000" stroke-width="1.6"/>
<text x="67.1" y="566.02" font-family='"Liberation Sans", sans-serif' font-size="12" font-weight="bold" font-style="normal" text-anchor="end" fill="#000">20</text>
<line x1="67.4" y1="599.9" x2="71.9" y2="599.9" stroke="#000" stroke-width="1.6"/>
<text x="67.1" y="604.22" font-family='"Liberation Sans", sans-serif' font-size="12" font-weight="bold" font-style="normal" text-anchor="end" fill="#000">0</text>
<line x1="122.3" y1="599.9" x2="122.3" y2="604.8" stroke="#000" stroke-width="1.5"/>
<text x="124.6" y="616.2" font-family='"Liberation Sans", sans-serif' font-size="12.8" font-weight="bold" font-style="normal" text-anchor="middle" fill="#000">DEN9m</text>
<line x1="97.2" y1="478.1" x2="97.2" y2="492.1" stroke="#000" stroke-width="1.4"/>
<line x1="87.8" y1="478.1" x2="106.6" y2="478.1" stroke="#000" stroke-width="1.4"/>
<line x1="87.8" y1="492.1" x2="106.6" y2="492.1" stroke="#000" stroke-width="1.4"/>
<line x1="80.4" y1="484.8" x2="114" y2="484.8" stroke="#000" stroke-width="1.4"/>
<circle cx="92.7" cy="467.5" r="3.2" fill="#000"/>
<circle cx="101.7" cy="464.5" r="3.2" fill="#000"/>
<circle cx="88" cy="474.5" r="3.2" fill="#000"/>
<circle cx="106.5" cy="473.6" r="3.2" fill="#000"/>
<circle cx="97.3" cy="482.5" r="3.2" fill="#000"/>
<circle cx="97.3" cy="493.7" r="3.2" fill="#000"/>
<circle cx="97.3" cy="503.7" r="3.2" fill="#000"/>
<circle cx="97.3" cy="521.7" r="3.2" fill="#000"/>
<rect x="144.2" y="574.1" width="6.2" height="6.2" fill="#E23B24"/>
<rect x="137.9" y="591.3" width="6.2" height="6.2" fill="#E23B24"/>
<rect x="142.4" y="591.1" width="6.2" height="6.2" fill="#E23B24"/>
<rect x="146.9" y="591.2" width="6.2" height="6.2" fill="#E23B24"/>
<rect x="150.4" y="591.5" width="6.2" height="6.2" fill="#E23B24"/>
<rect x="131.4" y="593.4" width="6.2" height="6.2" fill="#E23B24"/>
<rect x="135.9" y="592.4" width="6.2" height="6.2" fill="#E23B24"/>
<rect x="139.9" y="595.4" width="6.2" height="6.2" fill="#E23B24"/>
<rect x="144.4" y="592.7" width="6.2" height="6.2" fill="#E23B24"/>
<rect x="148.9" y="595.7" width="6.2" height="6.2" fill="#E23B24"/>
<rect x="153.4" y="592.7" width="6.2" height="6.2" fill="#E23B24"/>
<rect x="157.7" y="593.2" width="6.2" height="6.2" fill="#E23B24"/>
<rect x="137.9" y="596.4" width="6.2" height="6.2" fill="#E23B24"/>
<rect x="146.9" y="596.9" width="6.2" height="6.2" fill="#E23B24"/>
<rect x="142.9" y="596.4" width="6.2" height="6.2" fill="#E23B24"/>
<rect x="152.4" y="596.1" width="6.2" height="6.2" fill="#E23B24"/>
<line x1="138" y1="594.6" x2="156" y2="594.6" stroke="#f7c9be" stroke-width="0.9"/>
<line x1="140" y1="596.8" x2="154" y2="596.8" stroke="#f7c9be" stroke-width="0.7"/>
<text x="145.6" y="573.46" font-family='"Liberation Sans", sans-serif' font-size="10.5" font-weight="bold" font-style="normal" text-anchor="middle" fill="#333">***</text>
<text x="250.3" y="522.8" font-family='"Liberation Sans", sans-serif' font-size="12.3" font-weight="bold" text-anchor="middle" transform="rotate(-90 250.3 522.8)">Tumor number per cm<tspan font-size="11.5" dy="-4.1">2</tspan></text>
<line x1="278.3" y1="446.7" x2="278.3" y2="600.2" stroke="#000" stroke-width="1.6"/>
<line x1="277.5" y1="599.4" x2="379" y2="599.4" stroke="#000" stroke-width="1.6"/>
<line x1="273.8" y1="447.5" x2="278.3" y2="447.5" stroke="#000" stroke-width="1.6"/>
<text x="273.5" y="451.82" font-family='"Liberation Sans", sans-serif' font-size="12" font-weight="bold" font-style="normal" text-anchor="end" fill="#000">25</text>
<line x1="273.8" y1="477.9" x2="278.3" y2="477.9" stroke="#000" stroke-width="1.6"/>
<text x="273.5" y="482.22" font-family='"Liberation Sans", sans-serif' font-size="12" font-weight="bold" font-style="normal" text-anchor="end" fill="#000">20</text>
<line x1="273.8" y1="508.3" x2="278.3" y2="508.3" stroke="#000" stroke-width="1.6"/>
<text x="273.5" y="512.62" font-family='"Liberation Sans", sans-serif' font-size="12" font-weight="bold" font-style="normal" text-anchor="end" fill="#000">15</text>
<line x1="273.8" y1="538.6" x2="278.3" y2="538.6" stroke="#000" stroke-width="1.6"/>
<text x="273.5" y="542.92" font-family='"Liberation Sans", sans-serif' font-size="12" font-weight="bold" font-style="normal" text-anchor="end" fill="#000">10</text>
<line x1="273.8" y1="569" x2="278.3" y2="569" stroke="#000" stroke-width="1.6"/>
<text x="273.5" y="573.32" font-family='"Liberation Sans", sans-serif' font-size="12" font-weight="bold" font-style="normal" text-anchor="end" fill="#000">5</text>
<line x1="273.8" y1="599.4" x2="278.3" y2="599.4" stroke="#000" stroke-width="1.6"/>
<text x="273.5" y="603.72" font-family='"Liberation Sans", sans-serif' font-size="12" font-weight="bold" font-style="normal" text-anchor="end" fill="#000">0</text>
<line x1="329" y1="599.4" x2="329" y2="603.9" stroke="#000" stroke-width="1.5"/>
<text x="330.8" y="615.5" font-family='"Liberation Sans", sans-serif' font-size="12.5" font-weight="bold" font-style="normal" text-anchor="middle" fill="#000">DEN9m</text>
<line x1="303.4" y1="501.1" x2="303.4" y2="516.1" stroke="#000" stroke-width="1.4"/>
<line x1="294.2" y1="501.1" x2="312.6" y2="501.1" stroke="#000" stroke-width="1.4"/>
<line x1="294.2" y1="516.1" x2="312.6" y2="516.1" stroke="#000" stroke-width="1.4"/>
<line x1="286.6" y1="508.5" x2="320.2" y2="508.5" stroke="#000" stroke-width="1.4"/>
<circle cx="303.3" cy="469.9" r="3.2" fill="#000"/>
<circle cx="298.4" cy="492.2" r="3.2" fill="#000"/>
<circle cx="312.5" cy="501.1" r="3.2" fill="#000"/>
<circle cx="306.4" cy="503.6" r="3.2" fill="#000"/>
<circle cx="298.4" cy="511.2" r="3.2" fill="#000"/>
<circle cx="303.3" cy="521" r="3.2" fill="#000"/>
<circle cx="307.6" cy="529" r="3.2" fill="#000"/>
<circle cx="298.4" cy="536.4" r="3.2" fill="#000"/>
<rect x="350.8" y="574" width="6.2" height="6.2" fill="#E23B24"/>
<rect x="350.7" y="585.4" width="6.2" height="6.2" fill="#E23B24"/>
<rect x="345.9" y="589.4" width="6.2" height="6.2" fill="#E23B24"/>
<rect x="355.4" y="589.4" width="6.2" height="6.2" fill="#E23B24"/>
<rect x="344.9" y="593.9" width="6.2" height="6.2" fill="#E23B24"/>
<rect x="350.7" y="592.9" width="6.2" height="6.2" fill="#E23B24"/>
<rect x="356.9" y="593.4" width="6.2" height="6.2" fill="#E23B24"/>
<rect x="350.7" y="596.4" width="6.2" height="6.2" fill="#E23B24"/>
<rect x="359.4" y="591.7" width="6.2" height="6.2" fill="#E23B24"/>
<rect x="342.7" y="591.4" width="6.2" height="6.2" fill="#E23B24"/>
<line x1="353.7" y1="589.3" x2="353.7" y2="596" stroke="#E23B24" stroke-width="1.3"/>
<line x1="344.7" y1="589.3" x2="362.7" y2="589.3" stroke="#E23B24" stroke-width="1.3"/>
<line x1="344.7" y1="596" x2="362.7" y2="596" stroke="#E23B24" stroke-width="1.3"/>
<line x1="336.9" y1="592.5" x2="370.5" y2="592.5" stroke="#E23B24" stroke-width="1.3"/>
<text x="352.6" y="572.56" font-family='"Liberation Sans", sans-serif' font-size="10.5" font-weight="bold" font-style="normal" text-anchor="middle" fill="#333">***</text>
<text x="455.2" y="522.8" font-family='"Liberation Sans", sans-serif' font-size="12.4" font-weight="bold" text-anchor="middle" transform="rotate(-90 455.2 522.8)">Tumor size per tumor (mm<tspan font-size="12" dy="-5.6" dx="1.6">2</tspan><tspan dy="5.6" dx="0.6">)</tspan></text>
<line x1="481.5" y1="455.5" x2="481.5" y2="602.1" stroke="#000" stroke-width="1.6"/>
<line x1="480.7" y1="601.3" x2="577.8" y2="601.3" stroke="#000" stroke-width="1.6"/>
<line x1="477" y1="456.3" x2="481.5" y2="456.3" stroke="#000" stroke-width="1.6"/>
<text x="476.7" y="460.62" font-family='"Liberation Sans", sans-serif' font-size="12" font-weight="bold" font-style="normal" text-anchor="end" fill="#000">6</text>
<line x1="477" y1="504.4" x2="481.5" y2="504.4" stroke="#000" stroke-width="1.6"/>
<text x="476.7" y="508.72" font-family='"Liberation Sans", sans-serif' font-size="12" font-weight="bold" font-style="normal" text-anchor="end" fill="#000">4</text>
<line x1="477" y1="552.8" x2="481.5" y2="552.8" stroke="#000" stroke-width="1.6"/>
<text x="476.7" y="557.12" font-family='"Liberation Sans", sans-serif' font-size="12" font-weight="bold" font-style="normal" text-anchor="end" fill="#000">2</text>
<line x1="477" y1="601.3" x2="481.5" y2="601.3" stroke="#000" stroke-width="1.6"/>
<text x="476.7" y="605.62" font-family='"Liberation Sans", sans-serif' font-size="12" font-weight="bold" font-style="normal" text-anchor="end" fill="#000">0</text>
<line x1="529.6" y1="601.3" x2="529.6" y2="605.8" stroke="#000" stroke-width="1.5"/>
<text x="533.2" y="616.6" font-family='"Liberation Sans", sans-serif' font-size="12.5" font-weight="bold" font-style="normal" text-anchor="middle" fill="#000">DEN9m</text>
<line x1="505.8" y1="498.3" x2="505.8" y2="506.5" stroke="#000" stroke-width="1.4"/>
<line x1="496.8" y1="498.3" x2="514.8" y2="498.3" stroke="#000" stroke-width="1.4"/>
<line x1="496.8" y1="506.5" x2="514.8" y2="506.5" stroke="#000" stroke-width="1.4"/>
<line x1="489.8" y1="502.3" x2="521.8" y2="502.3" stroke="#000" stroke-width="1.4"/>
<circle cx="505.7" cy="483.9" r="3.2" fill="#000"/>
<circle cx="501.4" cy="494.2" r="3.2" fill="#000"/>
<circle cx="510.1" cy="491.8" r="3.2" fill="#000"/>
<circle cx="493.5" cy="504.5" r="3.2" fill="#000"/>
<circle cx="518" cy="505.5" r="3.2" fill="#000"/>
<circle cx="501.4" cy="508.8" r="3.2" fill="#000"/>
<circle cx="510.1" cy="509.9" r="3.2" fill="#000"/>
<circle cx="505.7" cy="520.2" r="3.2" fill="#000"/>
<rect x="546.25" y="525.95" width="6.1" height="6.1" fill="#E23B24"/>
<rect x="555.05" y="520.05" width="6.1" height="6.1" fill="#E23B24"/>
<rect x="550.65" y="545.15" width="6.1" height="6.1" fill="#E23B24"/>
<rect x="550.65" y="567.75" width="6.1" height="6.1" fill="#E23B24"/>
<rect x="550.65" y="583.55" width="6.1" height="6.1" fill="#E23B24"/>
<rect x="541.85" y="594.45" width="6.1" height="6.1" fill="#E23B24"/>
<rect x="559.35" y="595.95" width="6.1" height="6.1" fill="#E23B24"/>
<rect x="550.65" y="598.45" width="6.1" height="6.1" fill="#E23B24"/>
<line x1="553.8" y1="557.7" x2="553.8" y2="580.7" stroke="#E23B24" stroke-width="1.4"/>
<line x1="545" y1="557.7" x2="562.6" y2="557.7" stroke="#E23B24" stroke-width="1.4"/>
<line x1="545" y1="580.7" x2="562.6" y2="580.7" stroke="#E23B24" stroke-width="1.4"/>
<line x1="537.8" y1="569.3" x2="569.8" y2="569.3" stroke="#E23B24" stroke-width="1.4"/>
<text x="553.9" y="517.75" font-family='"Liberation Sans", sans-serif' font-size="10.5" font-weight="bold" font-style="normal" text-anchor="middle" fill="#333">*</text>
<circle cx="582.2" cy="447" r="3.1" fill="#000"/>
<rect x="579.3" y="461" width="5.8" height="5.8" fill="#E23B24"/>
<text x="598.8" y="451.7" font-family='"Liberation Sans", sans-serif' font-size="11.4" font-weight="bold" font-style="italic" fill="#000" letter-spacing="0.55">med23<tspan font-size="8.3" font-style="normal" dy="-3.5" dx="-0.9" letter-spacing="0.15">f/f</tspan></text>
<text x="598.8" y="468.6" font-family='"Liberation Sans", sans-serif' font-size="11.4" font-weight="bold" font-style="italic" fill="#000" letter-spacing="0.55">med23<tspan font-size="7.47" font-style="normal" dy="-3.5" dx="-0.9" letter-spacing="0">Δli</tspan></text>
<text x="8" y="620.8" font-family='"Liberation Serif", serif' font-size="16" font-weight="bold" font-style="normal" text-anchor="start" fill="#000">E</text>
<text x="35.1" y="702.5" font-family='"Liberation Sans", sans-serif' font-size="12.5" font-weight="bold" font-style="normal" text-anchor="middle" fill="#000" transform="rotate(-90 35.1 702.5)">ALT(U/L)</text>
<line x1="57.7" y1="654" x2="57.7" y2="766.4" stroke="#000" stroke-width="1.6"/>
<line x1="56.9" y1="765.6" x2="224" y2="765.6" stroke="#000" stroke-width="1.6"/>
<line x1="54.3" y1="654.8" x2="57.7" y2="654.8" stroke="#000" stroke-width="1.3"/>
<text x="54" y="657.79" font-family='"Liberation Sans", sans-serif' font-size="8.3" font-weight="bold" font-style="normal" text-anchor="end" fill="#000">150</text>
<line x1="54.3" y1="673.3" x2="57.7" y2="673.3" stroke="#000" stroke-width="1.3"/>
<text x="54" y="676.29" font-family='"Liberation Sans", sans-serif' font-size="8.3" font-weight="bold" font-style="normal" text-anchor="end" fill="#000">125</text>
<line x1="54.3" y1="691.7" x2="57.7" y2="691.7" stroke="#000" stroke-width="1.3"/>
<text x="54" y="694.69" font-family='"Liberation Sans", sans-serif' font-size="8.3" font-weight="bold" font-style="normal" text-anchor="end" fill="#000">100</text>
<line x1="54.3" y1="710.2" x2="57.7" y2="710.2" stroke="#000" stroke-width="1.3"/>
<text x="54" y="713.19" font-family='"Liberation Sans", sans-serif' font-size="8.3" font-weight="bold" font-style="normal" text-anchor="end" fill="#000">75</text>
<line x1="54.3" y1="728.6" x2="57.7" y2="728.6" stroke="#000" stroke-width="1.3"/>
<text x="54" y="731.59" font-family='"Liberation Sans", sans-serif' font-size="8.3" font-weight="bold" font-style="normal" text-anchor="end" fill="#000">50</text>
<line x1="54.3" y1="747.1" x2="57.7" y2="747.1" stroke="#000" stroke-width="1.3"/>
<text x="54" y="750.09" font-family='"Liberation Sans", sans-serif' font-size="8.3" font-weight="bold" font-style="normal" text-anchor="end" fill="#000">25</text>
<line x1="54.3" y1="765.6" x2="57.7" y2="765.6" stroke="#000" stroke-width="1.3"/>
<text x="54" y="768.59" font-family='"Liberation Sans", sans-serif' font-size="8.3" font-weight="bold" font-style="normal" text-anchor="end" fill="#000">0</text>
<line x1="99.6" y1="765.6" x2="99.6" y2="769.1" stroke="#000" stroke-width="1.2"/>
<line x1="182.4" y1="765.6" x2="182.4" y2="769.1" stroke="#000" stroke-width="1.2"/>
<text x="100.8" y="781" font-family='"Liberation Sans", sans-serif' font-size="12.5" font-weight="bold" font-style="normal" text-anchor="middle" fill="#000">DEN9m</text>
<text x="183.5" y="781" font-family='"Liberation Sans", sans-serif' font-size="12.5" font-weight="bold" font-style="normal" text-anchor="middle" fill="#000">Normal</text>
<path d="M82.9 661 V645.2 H166.6 V720" fill="none" stroke="#000" stroke-width="1.3"/>
<path d="M82.9 654.8 H115.3 V713.5" fill="none" stroke="#000" stroke-width="1.3"/>
<text x="99.7" y="655.99" font-family='"Liberation Sans", sans-serif' font-size="9.2" font-weight="bold" font-style="normal" text-anchor="middle" fill="#333">***</text>
<text x="122.5" y="645.99" font-family='"Liberation Sans", sans-serif' font-size="9.2" font-weight="bold" font-style="normal" text-anchor="middle" fill="#333">***</text>
<line x1="83.7" y1="662" x2="83.7" y2="677.3" stroke="#000" stroke-width="1.3"/>
<line x1="78" y1="662" x2="89.4" y2="662" stroke="#000" stroke-width="1.3"/>
<line x1="78" y1="677.3" x2="89.4" y2="677.3" stroke="#000" stroke-width="1.3"/>
<line x1="73.4" y1="669.6" x2="94" y2="669.6" stroke="#000" stroke-width="1.3"/>
<circle cx="83.9" cy="660.4" r="2.25" fill="#000"/>
<circle cx="80.1" cy="664.9" r="2.25" fill="#000"/>
<circle cx="87" cy="672" r="2.25" fill="#000"/>
<circle cx="83.9" cy="679.4" r="2.25" fill="#000"/>
<circle cx="83.9" cy="698.6" r="2.25" fill="#000"/>
<circle cx="83.9" cy="710.6" r="2.25" fill="#000"/>
<line x1="114.8" y1="716.9" x2="114.8" y2="733.4" stroke="#E23B24" stroke-width="1.3"/>
<line x1="109.1" y1="716.9" x2="120.5" y2="716.9" stroke="#E23B24" stroke-width="1.3"/>
<line x1="109.1" y1="733.4" x2="120.5" y2="733.4" stroke="#E23B24" stroke-width="1.3"/>
<line x1="104.5" y1="725.2" x2="125.1" y2="725.2" stroke="#E23B24" stroke-width="1.3"/>
<rect x="112.85" y="660.35" width="4.3" height="4.3" fill="#E23B24"/>
<rect x="112.85" y="711.65" width="4.3" height="4.3" fill="#E23B24"/>
<rect x="105.15" y="728.85" width="4.3" height="4.3" fill="#E23B24"/>
<rect x="109.95" y="730.45" width="4.3" height="4.3" fill="#E23B24"/>
<rect x="115.25" y="731.25" width="4.3" height="4.3" fill="#E23B24"/>
<rect x="120.35" y="729.15" width="4.3" height="4.3" fill="#E23B24"/>
<rect x="105.95" y="737.65" width="4.3" height="4.3" fill="#E23B24"/>
<rect x="112.65" y="739.55" width="4.3" height="4.3" fill="#E23B24"/>
<rect x="119.25" y="738.75" width="4.3" height="4.3" fill="#E23B24"/>
<line x1="166.6" y1="726.6" x2="166.6" y2="735" stroke="#000" stroke-width="1.3"/>
<line x1="161.1" y1="726.6" x2="172.1" y2="726.6" stroke="#000" stroke-width="1.3"/>
<line x1="161.1" y1="735" x2="172.1" y2="735" stroke="#000" stroke-width="1.3"/>
<line x1="156.3" y1="731" x2="176.9" y2="731" stroke="#000" stroke-width="1.3"/>
<circle cx="166.6" cy="704.5" r="2.25" fill="#000"/>
<circle cx="166.6" cy="719.7" r="2.25" fill="#000"/>
<circle cx="163.8" cy="729.7" r="2.25" fill="#000"/>
<circle cx="169.5" cy="729.7" r="2.25" fill="#000"/>
<circle cx="173.5" cy="733.8" r="2.25" fill="#000"/>
<circle cx="159.8" cy="736.1" r="2.25" fill="#000"/>
<circle cx="166.3" cy="736.6" r="2.25" fill="#000"/>
<circle cx="169.9" cy="739.8" r="2.25" fill="#000"/>
<circle cx="163.4" cy="745.7" r="2.25" fill="#000"/>
<rect x="195.85" y="718.85" width="4.3" height="4.3" fill="#E23B24"/>
<rect x="188.15" y="726.85" width="4.3" height="4.3" fill="#E23B24"/>
<rect x="192.95" y="729.65" width="4.3" height="4.3" fill="#E23B24"/>
<rect x="198.55" y="730.05" width="4.3" height="4.3" fill="#E23B24"/>
<rect x="203.35" y="729.15" width="4.3" height="4.3" fill="#E23B24"/>
<rect x="190.55" y="733.65" width="4.3" height="4.3" fill="#E23B24"/>
<rect x="196.15" y="733.65" width="4.3" height="4.3" fill="#E23B24"/>
<rect x="200.95" y="734.45" width="4.3" height="4.3" fill="#E23B24"/>
<rect x="193.75" y="738.05" width="4.3" height="4.3" fill="#E23B24"/>
<rect x="198.55" y="736.85" width="4.3" height="4.3" fill="#E23B24"/>
<rect x="192.15" y="731.25" width="4.3" height="4.3" fill="#E23B24"/>
<line x1="198" y1="730.5" x2="198" y2="735.5" stroke="#E23B24" stroke-width="1.2"/>
<line x1="192.5" y1="730.5" x2="203.5" y2="730.5" stroke="#E23B24" stroke-width="1.2"/>
<line x1="192.5" y1="735.5" x2="203.5" y2="735.5" stroke="#E23B24" stroke-width="1.2"/>
<line x1="187.7" y1="732.9" x2="208.3" y2="732.9" stroke="#E23B24" stroke-width="1.2"/>
<text x="256.2" y="702.4" font-family='"Liberation Sans", sans-serif' font-size="12.5" font-weight="bold" font-style="normal" text-anchor="middle" fill="#000" transform="rotate(-90 256.2 702.4)">AST(U/L)</text>
<line x1="278.9" y1="654.3" x2="278.9" y2="766.4" stroke="#000" stroke-width="1.6"/>
<line x1="278.1" y1="765.6" x2="445.4" y2="765.6" stroke="#000" stroke-width="1.6"/>
<line x1="275.5" y1="655.1" x2="278.9" y2="655.1" stroke="#000" stroke-width="1.3"/>
<text x="275.2" y="658.09" font-family='"Liberation Sans", sans-serif' font-size="8.3" font-weight="bold" font-style="normal" text-anchor="end" fill="#000">175</text>
<line x1="275.5" y1="670.9" x2="278.9" y2="670.9" stroke="#000" stroke-width="1.3"/>
<text x="275.2" y="673.89" font-family='"Liberation Sans", sans-serif' font-size="8.3" font-weight="bold" font-style="normal" text-anchor="end" fill="#000">150</text>
<line x1="275.5" y1="686.7" x2="278.9" y2="686.7" stroke="#000" stroke-width="1.3"/>
<text x="275.2" y="689.69" font-family='"Liberation Sans", sans-serif' font-size="8.3" font-weight="bold" font-style="normal" text-anchor="end" fill="#000">125</text>
<line x1="275.5" y1="702.5" x2="278.9" y2="702.5" stroke="#000" stroke-width="1.3"/>
<text x="275.2" y="705.49" font-family='"Liberation Sans", sans-serif' font-size="8.3" font-weight="bold" font-style="normal" text-anchor="end" fill="#000">100</text>
<line x1="275.5" y1="718.2" x2="278.9" y2="718.2" stroke="#000" stroke-width="1.3"/>
<text x="275.2" y="721.19" font-family='"Liberation Sans", sans-serif' font-size="8.3" font-weight="bold" font-style="normal" text-anchor="end" fill="#000">75</text>
<line x1="275.5" y1="734" x2="278.9" y2="734" stroke="#000" stroke-width="1.3"/>
<text x="275.2" y="736.99" font-family='"Liberation Sans", sans-serif' font-size="8.3" font-weight="bold" font-style="normal" text-anchor="end" fill="#000">50</text>
<line x1="275.5" y1="749.8" x2="278.9" y2="749.8" stroke="#000" stroke-width="1.3"/>
<text x="275.2" y="752.79" font-family='"Liberation Sans", sans-serif' font-size="8.3" font-weight="bold" font-style="normal" text-anchor="end" fill="#000">25</text>
<line x1="275.5" y1="765.6" x2="278.9" y2="765.6" stroke="#000" stroke-width="1.3"/>
<text x="275.2" y="768.59" font-family='"Liberation Sans", sans-serif' font-size="8.3" font-weight="bold" font-style="normal" text-anchor="end" fill="#000">0</text>
<line x1="320.2" y1="765.6" x2="320.2" y2="769.1" stroke="#000" stroke-width="1.2"/>
<line x1="403.4" y1="765.6" x2="403.4" y2="769.1" stroke="#000" stroke-width="1.2"/>
<text x="324.3" y="781" font-family='"Liberation Sans", sans-serif' font-size="12.5" font-weight="bold" font-style="normal" text-anchor="middle" fill="#000">DEN9m</text>
<text x="407.6" y="781" font-family='"Liberation Sans", sans-serif' font-size="12.5" font-weight="bold" font-style="normal" text-anchor="middle" fill="#000">Normal</text>
<line x1="304.8" y1="670.4" x2="304.8" y2="698.4" stroke="#000" stroke-width="1.3"/>
<line x1="299.1" y1="670.4" x2="310.5" y2="670.4" stroke="#000" stroke-width="1.3"/>
<line x1="299.1" y1="698.4" x2="310.5" y2="698.4" stroke="#000" stroke-width="1.3"/>
<line x1="294.4" y1="684.2" x2="315.2" y2="684.2" stroke="#000" stroke-width="1.3"/>
<circle cx="304.8" cy="681.3" r="2.25" fill="#000"/>
<circle cx="298.7" cy="689.1" r="2.25" fill="#000"/>
<circle cx="311.5" cy="689.5" r="2.25" fill="#000"/>
<circle cx="304.8" cy="695.4" r="2.25" fill="#000"/>
<circle cx="304.8" cy="702.6" r="2.25" fill="#000"/>
<circle cx="298.7" cy="707" r="2.25" fill="#000"/>
<circle cx="311.5" cy="708.9" r="2.25" fill="#000"/>
<circle cx="304.8" cy="710.8" r="2.25" fill="#000"/>
<line x1="336.1" y1="700.3" x2="336.1" y2="712.9" stroke="#E23B24" stroke-width="1.3"/>
<line x1="330.4" y1="700.3" x2="341.8" y2="700.3" stroke="#E23B24" stroke-width="1.3"/>
<line x1="330.4" y1="712.9" x2="341.8" y2="712.9" stroke="#E23B24" stroke-width="1.3"/>
<line x1="325.6" y1="706.1" x2="346.6" y2="706.1" stroke="#000" stroke-width="1.3"/>
<rect x="333.95" y="659.55" width="4.3" height="4.3" fill="#E23B24"/>
<rect x="333.95" y="688.75" width="4.3" height="4.3" fill="#E23B24"/>
<rect x="337.45" y="695.05" width="4.3" height="4.3" fill="#E23B24"/>
<rect x="331.15" y="698.15" width="4.3" height="4.3" fill="#E23B24"/>
<rect x="331.15" y="712.15" width="4.3" height="4.3" fill="#E23B24"/>
<rect x="327.35" y="717.75" width="4.3" height="4.3" fill="#E23B24"/>
<rect x="334.35" y="717.25" width="4.3" height="4.3" fill="#E23B24"/>
<rect x="340.45" y="719.65" width="4.3" height="4.3" fill="#E23B24"/>
<rect x="333.95" y="723.85" width="4.3" height="4.3" fill="#E23B24"/>
<line x1="388" y1="703.5" x2="388" y2="712.4" stroke="#000" stroke-width="1.3"/>
<line x1="382.5" y1="703.5" x2="393.5" y2="703.5" stroke="#000" stroke-width="1.3"/>
<line x1="382.5" y1="712.4" x2="393.5" y2="712.4" stroke="#000" stroke-width="1.3"/>
<line x1="377.6" y1="708.2" x2="398.4" y2="708.2" stroke="#000" stroke-width="1.3"/>
<circle cx="387.9" cy="686.5" r="2.25" fill="#000"/>
<circle cx="380.4" cy="701.2" r="2.25" fill="#000"/>
<circle cx="389.8" cy="701.9" r="2.25" fill="#000"/>
<circle cx="395.6" cy="700.7" r="2.25" fill="#000"/>
<circle cx="386.3" cy="706.6" r="2.25" fill="#000"/>
<circle cx="383.9" cy="712.4" r="2.25" fill="#000"/>
<circle cx="391.7" cy="715.2" r="2.25" fill="#000"/>
<circle cx="384.6" cy="725.3" r="2.25" fill="#000"/>
<circle cx="391.7" cy="724.6" r="2.25" fill="#000"/>
<rect x="417.05" y="700.45" width="4.3" height="4.3" fill="#E23B24"/>
<rect x="410.25" y="704.45" width="4.3" height="4.3" fill="#E23B24"/>
<rect x="423.85" y="703.95" width="4.3" height="4.3" fill="#E23B24"/>
<rect x="417.05" y="707.95" width="4.3" height="4.3" fill="#E23B24"/>
<rect x="410.95" y="713.75" width="4.3" height="4.3" fill="#E23B24"/>
<rect x="423.85" y="714.95" width="4.3" height="4.3" fill="#E23B24"/>
<rect x="413.35" y="717.25" width="4.3" height="4.3" fill="#E23B24"/>
<rect x="420.85" y="717.75" width="4.3" height="4.3" fill="#E23B24"/>
<rect x="417.05" y="720.05" width="4.3" height="4.3" fill="#E23B24"/>
<rect x="415.85" y="714.35" width="4.3" height="4.3" fill="#E23B24"/>
<line x1="419.2" y1="713.2" x2="419.2" y2="717.8" stroke="#E23B24" stroke-width="1.3"/>
<line x1="413.7" y1="713.2" x2="424.7" y2="713.2" stroke="#E23B24" stroke-width="1.3"/>
<line x1="413.7" y1="717.8" x2="424.7" y2="717.8" stroke="#E23B24" stroke-width="1.3"/>
<line x1="408.9" y1="715.4" x2="429.5" y2="715.4" stroke="#000" stroke-width="1.3"/>
<text x="476.5" y="702" font-family='"Liberation Sans", sans-serif' font-size="12.1" font-weight="bold" font-style="normal" text-anchor="middle" fill="#000" transform="rotate(-90 476.5 702)">Total bilirubin (umol/L)</text>
<line x1="496" y1="653.9" x2="496" y2="766.3" stroke="#000" stroke-width="1.6"/>
<line x1="495.2" y1="765.5" x2="662.8" y2="765.5" stroke="#000" stroke-width="1.6"/>
<line x1="492.6" y1="654.7" x2="496" y2="654.7" stroke="#000" stroke-width="1.3"/>
<text x="492.3" y="657.69" font-family='"Liberation Sans", sans-serif' font-size="8.3" font-weight="bold" font-style="normal" text-anchor="end" fill="#000">40</text>
<line x1="492.6" y1="682.4" x2="496" y2="682.4" stroke="#000" stroke-width="1.3"/>
<text x="492.3" y="685.39" font-family='"Liberation Sans", sans-serif' font-size="8.3" font-weight="bold" font-style="normal" text-anchor="end" fill="#000">30</text>
<line x1="492.6" y1="710.1" x2="496" y2="710.1" stroke="#000" stroke-width="1.3"/>
<text x="492.3" y="713.09" font-family='"Liberation Sans", sans-serif' font-size="8.3" font-weight="bold" font-style="normal" text-anchor="end" fill="#000">20</text>
<line x1="492.6" y1="737.8" x2="496" y2="737.8" stroke="#000" stroke-width="1.3"/>
<text x="492.3" y="740.79" font-family='"Liberation Sans", sans-serif' font-size="8.3" font-weight="bold" font-style="normal" text-anchor="end" fill="#000">10</text>
<line x1="492.6" y1="765.5" x2="496" y2="765.5" stroke="#000" stroke-width="1.3"/>
<text x="492.3" y="768.49" font-family='"Liberation Sans", sans-serif' font-size="8.3" font-weight="bold" font-style="normal" text-anchor="end" fill="#000">0</text>
<line x1="537.8" y1="765.5" x2="537.8" y2="769" stroke="#000" stroke-width="1.2"/>
<line x1="620.3" y1="765.5" x2="620.3" y2="769" stroke="#000" stroke-width="1.2"/>
<text x="541.9" y="781" font-family='"Liberation Sans", sans-serif' font-size="12.5" font-weight="bold" font-style="normal" text-anchor="middle" fill="#000">DEN9m</text>
<text x="624.5" y="781" font-family='"Liberation Sans", sans-serif' font-size="12.5" font-weight="bold" font-style="normal" text-anchor="middle" fill="#000">Normal</text>
<line x1="522.1" y1="702.5" x2="522.1" y2="714.9" stroke="#000" stroke-width="1.3"/>
<line x1="516.4" y1="702.5" x2="527.8" y2="702.5" stroke="#000" stroke-width="1.3"/>
<line x1="516.4" y1="714.9" x2="527.8" y2="714.9" stroke="#000" stroke-width="1.3"/>
<line x1="511.6" y1="708.8" x2="532.6" y2="708.8" stroke="#000" stroke-width="1.3"/>
<circle cx="522.1" cy="667.1" r="2.25" fill="#000"/>
<circle cx="522.1" cy="697.8" r="2.25" fill="#000"/>
<circle cx="514.9" cy="709.6" r="2.25" fill="#000"/>
<circle cx="526" cy="709.6" r="2.25" fill="#000"/>
<circle cx="529.4" cy="709.6" r="2.25" fill="#000"/>
<circle cx="517.5" cy="715.8" r="2.25" fill="#000"/>
<circle cx="521.6" cy="716" r="2.25" fill="#000"/>
<circle cx="524.7" cy="722.8" r="2.25" fill="#000"/>
<circle cx="518.4" cy="728.8" r="2.25" fill="#000"/>
<line x1="553.1" y1="704.9" x2="553.1" y2="718" stroke="#E23B24" stroke-width="1.3"/>
<line x1="547.4" y1="704.9" x2="558.8" y2="704.9" stroke="#E23B24" stroke-width="1.3"/>
<line x1="547.4" y1="718" x2="558.8" y2="718" stroke="#E23B24" stroke-width="1.3"/>
<line x1="542.6" y1="711.2" x2="563.6" y2="711.2" stroke="#000" stroke-width="1.3"/>
<rect x="547.75" y="677.25" width="4.3" height="4.3" fill="#E23B24"/>
<rect x="554.35" y="677.25" width="4.3" height="4.3" fill="#E23B24"/>
<rect x="548.05" y="707.25" width="4.3" height="4.3" fill="#E23B24"/>
<rect x="554.15" y="707.25" width="4.3" height="4.3" fill="#E23B24"/>
<rect x="543.05" y="720.05" width="4.3" height="4.3" fill="#E23B24"/>
<rect x="548.25" y="720.05" width="4.3" height="4.3" fill="#E23B24"/>
<rect x="553.55" y="720.05" width="4.3" height="4.3" fill="#E23B24"/>
<rect x="558.75" y="720.05" width="4.3" height="4.3" fill="#E23B24"/>
<rect x="550.95" y="732.45" width="4.3" height="4.3" fill="#E23B24"/>
<line x1="604.9" y1="734.4" x2="604.9" y2="739" stroke="#000" stroke-width="1.3"/>
<line x1="599.4" y1="734.4" x2="610.4" y2="734.4" stroke="#000" stroke-width="1.3"/>
<line x1="599.4" y1="739" x2="610.4" y2="739" stroke="#000" stroke-width="1.3"/>
<line x1="594.3" y1="736.7" x2="615.5" y2="736.7" stroke="#000" stroke-width="1.3"/>
<circle cx="597.2" cy="728.6" r="2.25" fill="#000"/>
<circle cx="602.5" cy="728.6" r="2.25" fill="#000"/>
<circle cx="612.7" cy="728.6" r="2.25" fill="#000"/>
<circle cx="607.5" cy="734.1" r="2.25" fill="#000"/>
<circle cx="599" cy="739.9" r="2.25" fill="#000"/>
<circle cx="604.8" cy="739.9" r="2.25" fill="#000"/>
<circle cx="612.2" cy="739.9" r="2.25" fill="#000"/>
<circle cx="604.8" cy="746.9" r="2.25" fill="#000"/>
<rect x="634.25" y="720.65" width="4.3" height="4.3" fill="#E23B24"/>
<rect x="629.75" y="726.45" width="4.3" height="4.3" fill="#E23B24"/>
<rect x="637.65" y="726.45" width="4.3" height="4.3" fill="#E23B24"/>
<rect x="634.25" y="731.95" width="4.3" height="4.3" fill="#E23B24"/>
<rect x="627.15" y="737.75" width="4.3" height="4.3" fill="#E23B24"/>
<rect x="634.25" y="737.75" width="4.3" height="4.3" fill="#E23B24"/>
<rect x="640.25" y="737.75" width="4.3" height="4.3" fill="#E23B24"/>
<rect x="634.25" y="744.75" width="4.3" height="4.3" fill="#E23B24"/>
<rect x="630.85" y="732.35" width="4.3" height="4.3" fill="#E23B24"/>
<line x1="636.4" y1="732.6" x2="636.4" y2="737.6" stroke="#E23B24" stroke-width="1.3"/>
<line x1="630.9" y1="732.6" x2="641.9" y2="732.6" stroke="#E23B24" stroke-width="1.3"/>
<line x1="630.9" y1="737.6" x2="641.9" y2="737.6" stroke="#E23B24" stroke-width="1.3"/>
<line x1="625.9" y1="735.1" x2="646.9" y2="735.1" stroke="#000" stroke-width="1.3"/>
<circle cx="619.4" cy="636.1" r="3" fill="#000"/>
<rect x="616.6" y="650" width="5.6" height="5.6" fill="#E23B24"/>
<text x="636.4" y="640.7" font-family='"Liberation Sans", sans-serif' font-size="11.4" font-weight="bold" font-style="italic" fill="#000" letter-spacing="0.55">med23<tspan font-size="8.3" font-style="normal" dy="-3.5" dx="-0.9" letter-spacing="0.15">f/f</tspan></text>
<text x="636.4" y="657.4" font-family='"Liberation Sans", sans-serif' font-size="11.4" font-weight="bold" font-style="italic" fill="#000" letter-spacing="0.55">med23<tspan font-size="7.47" font-style="normal" dy="-3.5" dx="-0.9" letter-spacing="0">Δli</tspan></text>
<text x="1.3" y="813.8" font-family='"Liberation Serif", serif' font-size="16" font-weight="bold" font-style="normal" text-anchor="start" fill="#000">F</text>
<text x="153.9" y="822.8" font-family='"Liberation Sans", sans-serif' font-size="12.75" font-weight="bold" font-style="normal" text-anchor="middle" fill="#111">Overall survival</text>
<text x="33.6" y="899" font-family='"Liberation Sans", sans-serif' font-size="12.7" font-weight="bold" font-style="normal" text-anchor="middle" fill="#000" transform="rotate(-90 33.6 899)">Percent survival</text>
<line x1="55.4" y1="837.8" x2="55.4" y2="968.6" stroke="#000" stroke-width="1.4"/>
<line x1="54.7" y1="968" x2="250.8" y2="968" stroke="#000" stroke-width="1.4"/>
<line x1="51" y1="849.7" x2="55.4" y2="849.7" stroke="#000" stroke-width="1.3"/>
<text x="50.7" y="853.1" font-family='"Liberation Sans", sans-serif' font-size="9.6" font-weight="bold" font-style="normal" text-anchor="end" fill="#000">100</text>
<line x1="51" y1="873.4" x2="55.4" y2="873.4" stroke="#000" stroke-width="1.3"/>
<text x="50.7" y="876.8" font-family='"Liberation Sans", sans-serif' font-size="9.6" font-weight="bold" font-style="normal" text-anchor="end" fill="#000">80</text>
<line x1="51" y1="897" x2="55.4" y2="897" stroke="#000" stroke-width="1.3"/>
<text x="50.7" y="900.4" font-family='"Liberation Sans", sans-serif' font-size="9.6" font-weight="bold" font-style="normal" text-anchor="end" fill="#000">60</text>
<line x1="51" y1="920.7" x2="55.4" y2="920.7" stroke="#000" stroke-width="1.3"/>
<text x="50.7" y="924.1" font-family='"Liberation Sans", sans-serif' font-size="9.6" font-weight="bold" font-style="normal" text-anchor="end" fill="#000">40</text>
<line x1="51" y1="944.3" x2="55.4" y2="944.3" stroke="#000" stroke-width="1.3"/>
<text x="50.7" y="947.7" font-family='"Liberation Sans", sans-serif' font-size="9.6" font-weight="bold" font-style="normal" text-anchor="end" fill="#000">20</text>
<line x1="51" y1="968" x2="55.4" y2="968" stroke="#000" stroke-width="1.3"/>
<text x="50.7" y="971.4" font-family='"Liberation Sans", sans-serif' font-size="9.6" font-weight="bold" font-style="normal" text-anchor="end" fill="#000">0</text>
<line x1="78" y1="968" x2="78" y2="972.4" stroke="#000" stroke-width="1.3"/>
<text x="78.6" y="982.2" font-family='"Liberation Sans", sans-serif' font-size="9.6" font-weight="bold" font-style="normal" text-anchor="middle" fill="#000">10</text>
<line x1="135.5" y1="968" x2="135.5" y2="972.4" stroke="#000" stroke-width="1.3"/>
<text x="136.1" y="982.2" font-family='"Liberation Sans", sans-serif' font-size="9.6" font-weight="bold" font-style="normal" text-anchor="middle" fill="#000">15</text>
<line x1="193.2" y1="968" x2="193.2" y2="972.4" stroke="#000" stroke-width="1.3"/>
<text x="193.8" y="982.2" font-family='"Liberation Sans", sans-serif' font-size="9.6" font-weight="bold" font-style="normal" text-anchor="middle" fill="#000">20</text>
<line x1="250.7" y1="968" x2="250.7" y2="972.4" stroke="#000" stroke-width="1.3"/>
<text x="251.3" y="982.2" font-family='"Liberation Sans", sans-serif' font-size="9.6" font-weight="bold" font-style="normal" text-anchor="middle" fill="#000">25</text>
<text x="151.8" y="994.6" font-family='"Liberation Sans", sans-serif' font-size="12.3" font-weight="bold" font-style="normal" text-anchor="middle" fill="#000">Time (month)</text>
<text x="71.5" y="953.5" font-family='"Liberation Sans", sans-serif' font-size="10.9" font-weight="normal" font-style="normal" text-anchor="start" fill="#333">p&lt;0.0001</text>
<path d="M73.08 849.73L84.96 849.73L84.96 853.91L117.08 853.91L117.08 861.93L125.11 861.93L125.11 866.75L144.38 866.75L144.38 873.18L147.59 873.18L147.59 884.42L150.8 884.42L150.8 892.45L154.98 892.45L154.98 898.87L159.48 898.87L159.48 906.9L168.47 906.9L168.47 911.07L172.32 911.07L172.32 914.93L178.75 914.93L178.75 919.75L189.34 919.75L189.34 924.56L191.59 924.56L191.59 928.74L208.62 928.74L208.62 940.62L217.61 940.62L217.61 944.48L220.5 944.48L220.5 948.65L223.07 948.65L223.07 956.68L225.64 956.68L225.64 963.75L232.06 963.75L232.06 967.6" fill="none" stroke="#E23B24" stroke-width="1.5" stroke-dasharray="1.4 4.2"/>
<path d="M56.06 849.73L73.08 849.73L73.08 853.91L75.33 853.91L75.33 857.12L80.15 857.12L80.15 860.97L84.96 860.97L84.96 865.15L86.57 865.15L86.57 869L92.99 869L92.99 873.18L97.17 873.18L97.17 877.03L101.66 877.03L101.66 881.21L106.8 881.21L106.8 889.23L110.66 889.23L110.66 897.26L114.51 897.26L114.51 901.12L118.69 901.12L118.69 905.29L122.86 905.29L122.86 913.32L124.47 913.32L124.47 917.18L126.07 917.18L126.07 920.71L144.38 920.71L144.38 928.42L147.59 928.42L147.59 936.45L149.84 936.45L149.84 940.62L152.41 940.62L152.41 944.48L159.48 944.48L159.48 948.65L161.4 948.65L161.4 952.51L179.71 952.51L179.71 956.04L189.34 956.04L189.34 959.89L200.59 959.89L200.59 963.75L216.64 963.75L216.64 967.6" fill="none" stroke="#000" stroke-width="1.4" stroke-linejoin="miter"/>
<line x1="180.7" y1="839.6" x2="195.1" y2="839.6" stroke="#000" stroke-width="1.3"/>
<line x1="187.8" y1="837" x2="187.8" y2="839.6" stroke="#000" stroke-width="1.2"/>
<line x1="180.7" y1="855.6" x2="195.1" y2="855.6" stroke="#E23B24" stroke-width="1.5" stroke-dasharray="1.4 4.4"/>
<line x1="187.8" y1="853" x2="187.8" y2="855.6" stroke="#E23B24" stroke-width="1.2"/>
<text x="203.6" y="843.8" font-family='"Liberation Sans", sans-serif' font-size="11" font-style="italic" fill="#111">med23<tspan font-size="8" font-style="normal" dy="-4" dx="0.4">f/f</tspan></text>
<text x="203.6" y="860.2" font-family='"Liberation Sans", sans-serif' font-size="11" font-style="italic" fill="#111">med23<tspan font-size="8" font-style="normal" dy="-4" dx="0.4">Δli</tspan></text>
<text x="290.6" y="813.9" font-family='"Liberation Serif", serif' font-size="16" font-weight="bold" font-style="normal" text-anchor="start" fill="#000">G</text>
<text x="458.2" y="825.6" font-family='"Liberation Sans", sans-serif' font-size="12.8" font-weight="bold" font-style="italic" text-anchor="middle" fill="#111">Med23</text>
<text x="334.2" y="900.7" font-family='"Liberation Sans", sans-serif' font-size="12.7" font-weight="bold" font-style="normal" text-anchor="middle" fill="#000" transform="rotate(-90 334.2 900.7)">Relative mRNA expression</text>
<line x1="368.7" y1="836.1" x2="368.7" y2="966.7" stroke="#000" stroke-width="1.4"/>
<line x1="368" y1="966" x2="562.6" y2="966" stroke="#000" stroke-width="1.4"/>
<line x1="364.4" y1="836.8" x2="368.7" y2="836.8" stroke="#000" stroke-width="1.3"/>
<text x="363.9" y="840.26" font-family='"Liberation Sans", sans-serif' font-size="9.6" font-weight="bold" font-style="normal" text-anchor="end" fill="#000">0.006</text>
<line x1="364.4" y1="879.9" x2="368.7" y2="879.9" stroke="#000" stroke-width="1.3"/>
<text x="363.9" y="883.36" font-family='"Liberation Sans", sans-serif' font-size="9.6" font-weight="bold" font-style="normal" text-anchor="end" fill="#000">0.004</text>
<line x1="364.4" y1="923" x2="368.7" y2="923" stroke="#000" stroke-width="1.3"/>
<text x="363.9" y="926.46" font-family='"Liberation Sans", sans-serif' font-size="9.6" font-weight="bold" font-style="normal" text-anchor="end" fill="#000">0.002</text>
<line x1="364.4" y1="966" x2="368.7" y2="966" stroke="#000" stroke-width="1.3"/>
<text x="363.9" y="969.46" font-family='"Liberation Sans", sans-serif' font-size="9.6" font-weight="bold" font-style="normal" text-anchor="end" fill="#000">0.000</text>
<line x1="417" y1="966" x2="417" y2="970.3" stroke="#000" stroke-width="1.3"/>
<line x1="513.9" y1="966" x2="513.9" y2="970.3" stroke="#000" stroke-width="1.3"/>
<text x="417.5" y="981.6" font-family='"Liberation Sans", sans-serif' font-size="11.2" font-weight="bold" font-style="normal" text-anchor="middle" fill="#000">Tumor</text>
<text x="516.4" y="982" font-family='"Liberation Sans", sans-serif' font-size="11.5" font-weight="bold" font-style="normal" text-anchor="middle" fill="#000">Adjacent</text>
<text x="460.7" y="996.6" font-family='"Liberation Sans", sans-serif' font-size="12.7" font-weight="bold" font-style="normal" text-anchor="middle" fill="#000">DEN9m</text>
<circle cx="395.27" cy="851.22" r="2.7" fill="#000"/>
<circle cx="402.97" cy="849.86" r="2.7" fill="#000"/>
<circle cx="391.22" cy="864.73" r="2.7" fill="#000"/>
<circle cx="399.32" cy="865.41" r="2.7" fill="#000"/>
<circle cx="407.03" cy="864.46" r="2.7" fill="#000"/>
<circle cx="408.38" cy="869.46" r="2.7" fill="#000"/>
<circle cx="389.86" cy="871.22" r="2.7" fill="#000"/>
<circle cx="402.03" cy="872.16" r="2.7" fill="#000"/>
<circle cx="395.95" cy="874.86" r="2.7" fill="#000"/>
<circle cx="390.54" cy="880.27" r="2.7" fill="#000"/>
<circle cx="407.43" cy="879.32" r="2.7" fill="#000"/>
<circle cx="393.24" cy="881.62" r="2.7" fill="#000"/>
<circle cx="404.05" cy="881.62" r="2.7" fill="#000"/>
<circle cx="395.95" cy="884.32" r="2.7" fill="#000"/>
<circle cx="401.35" cy="884.32" r="2.7" fill="#000"/>
<circle cx="398.65" cy="885.68" r="2.7" fill="#000"/>
<circle cx="395.27" cy="887.03" r="2.7" fill="#000"/>
<circle cx="402.03" cy="887.7" r="2.7" fill="#000"/>
<circle cx="392.57" cy="889.73" r="2.7" fill="#000"/>
<circle cx="405.41" cy="889.73" r="2.7" fill="#000"/>
<circle cx="400.68" cy="891.49" r="2.7" fill="#000"/>
<circle cx="397.3" cy="894.46" r="2.7" fill="#000"/>
<circle cx="389.86" cy="896.49" r="2.7" fill="#000"/>
<circle cx="408.38" cy="897.43" r="2.7" fill="#000"/>
<circle cx="395.95" cy="899.86" r="2.7" fill="#000"/>
<circle cx="402.03" cy="903.65" r="2.7" fill="#000"/>
<circle cx="402.97" cy="907.97" r="2.7" fill="#000"/>
<circle cx="395.27" cy="912.7" r="2.7" fill="#000"/>
<line x1="387.1" y1="882.57" x2="411.3" y2="882.57" stroke="#000" stroke-width="1.2"/>
<rect x="432.71" y="900.95" width="5.4" height="5.4" fill="#E23B24"/>
<rect x="424.73" y="952.3" width="5.4" height="5.4" fill="#E23B24"/>
<rect x="432.71" y="958.92" width="5.4" height="5.4" fill="#E23B24"/>
<rect x="440.54" y="957.3" width="5.4" height="5.4" fill="#E23B24"/>
<rect x="423.92" y="914.73" width="5.4" height="5.4" fill="#E23B24"/>
<rect x="441.49" y="915.81" width="5.4" height="5.4" fill="#E23B24"/>
<rect x="425.68" y="918.79" width="5.4" height="5.4" fill="#E23B24"/>
<rect x="429.06" y="919.06" width="5.4" height="5.4" fill="#E23B24"/>
<rect x="436.49" y="919.06" width="5.4" height="5.4" fill="#E23B24"/>
<rect x="439.87" y="919.46" width="5.4" height="5.4" fill="#E23B24"/>
<rect x="432.71" y="920.41" width="5.4" height="5.4" fill="#E23B24"/>
<rect x="425.68" y="922.16" width="5.4" height="5.4" fill="#E23B24"/>
<rect x="439.87" y="922.57" width="5.4" height="5.4" fill="#E23B24"/>
<rect x="430.41" y="922.84" width="5.4" height="5.4" fill="#E23B24"/>
<rect x="435.14" y="922.57" width="5.4" height="5.4" fill="#E23B24"/>
<rect x="428.38" y="927.3" width="5.4" height="5.4" fill="#E23B24"/>
<rect x="432.71" y="929.33" width="5.4" height="5.4" fill="#E23B24"/>
<rect x="436.89" y="926.62" width="5.4" height="5.4" fill="#E23B24"/>
<rect x="432.71" y="925.54" width="5.4" height="5.4" fill="#E23B24"/>
<line x1="423.4" y1="927.97" x2="447.6" y2="927.97" stroke="#000" stroke-width="1.2"/>
<circle cx="487.26" cy="883.49" r="2.7" fill="#000"/>
<circle cx="490.72" cy="884.75" r="2.7" fill="#000"/>
<circle cx="494.48" cy="883.49" r="2.7" fill="#000"/>
<circle cx="498.25" cy="884.75" r="2.7" fill="#000"/>
<circle cx="502.02" cy="883.49" r="2.7" fill="#000"/>
<circle cx="506.1" cy="883.8" r="2.7" fill="#000"/>
<circle cx="488.83" cy="887.26" r="2.7" fill="#000"/>
<circle cx="493.54" cy="887.88" r="2.7" fill="#000"/>
<circle cx="498.88" cy="887.57" r="2.7" fill="#000"/>
<circle cx="503.9" cy="886.94" r="2.7" fill="#000"/>
<circle cx="496.05" cy="893.53" r="2.7" fill="#000"/>
<circle cx="496.05" cy="903.58" r="2.7" fill="#000"/>
<line x1="496.2" y1="884.8" x2="496.2" y2="887.6" stroke="#000" stroke-width="1"/>
<line x1="490.2" y1="884.8" x2="502.2" y2="884.8" stroke="#000" stroke-width="1"/>
<line x1="490.2" y1="887.6" x2="502.2" y2="887.6" stroke="#000" stroke-width="1"/>
<line x1="484.7" y1="886" x2="507.7" y2="886" stroke="#000" stroke-width="1"/>
<rect x="524.07" y="939.03" width="5.4" height="5.4" fill="#E23B24"/>
<rect x="527.09" y="940.09" width="5.4" height="5.4" fill="#E23B24"/>
<rect x="530.11" y="940.87" width="5.4" height="5.4" fill="#E23B24"/>
<rect x="533" y="940.09" width="5.4" height="5.4" fill="#E23B24"/>
<rect x="535.89" y="939.03" width="5.4" height="5.4" fill="#E23B24"/>
<rect x="530.11" y="952.57" width="5.4" height="5.4" fill="#E23B24"/>
<rect x="522.23" y="956.12" width="5.4" height="5.4" fill="#E23B24"/>
<rect x="525.12" y="957.83" width="5.4" height="5.4" fill="#E23B24"/>
<rect x="527.75" y="959.53" width="5.4" height="5.4" fill="#E23B24"/>
<rect x="530.11" y="960.98" width="5.4" height="5.4" fill="#E23B24"/>
<rect x="532.61" y="959.53" width="5.4" height="5.4" fill="#E23B24"/>
<rect x="535.24" y="957.83" width="5.4" height="5.4" fill="#E23B24"/>
<rect x="537.6" y="956.12" width="5.4" height="5.4" fill="#E23B24"/>
<line x1="532.7" y1="948.3" x2="532.7" y2="953.96" stroke="#E23B24" stroke-width="1.2"/>
<line x1="526.4" y1="948.3" x2="539" y2="948.3" stroke="#E23B24" stroke-width="1.2"/>
<line x1="526.4" y1="953.96" x2="539" y2="953.96" stroke="#E23B24" stroke-width="1.2"/>
<line x1="520.3" y1="951.2" x2="545.1" y2="951.2" stroke="#000" stroke-width="1.2"/>
<circle cx="549.1" cy="834" r="3" fill="#000"/>
<rect x="546.3" y="848.1" width="5.6" height="5.6" fill="#E23B24"/>
<text x="565.7" y="838.6" font-family='"Liberation Sans", sans-serif' font-size="11.5" font-weight="bold" font-style="italic" fill="#000" letter-spacing="0.55">med23<tspan font-size="8.3" font-style="normal" dy="-3.5" dx="-0.9" letter-spacing="0.15">f/f</tspan></text>
<text x="565.7" y="855.5" font-family='"Liberation Sans", sans-serif' font-size="11.5" font-weight="bold" font-style="italic" fill="#000" letter-spacing="0.55">med23<tspan font-size="7.47" font-style="normal" dy="-3.5" dx="-0.9" letter-spacing="0">Δli</tspan></text>
</svg></body></html>
